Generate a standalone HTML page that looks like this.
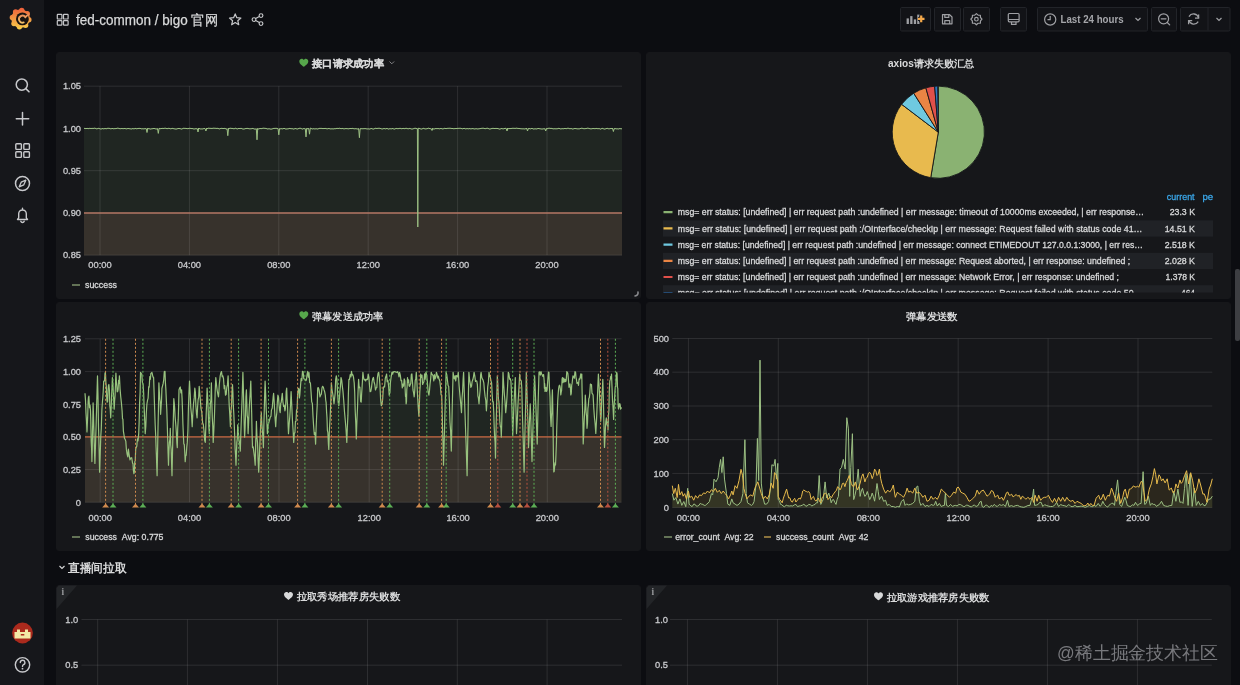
<!DOCTYPE html>
<html><head><meta charset="utf-8"><style>
html,body{margin:0;padding:0;}
body{width:1240px;height:685px;overflow:hidden;background:#0c0d11;position:relative;font-family:"Liberation Sans", sans-serif;}
</style></head><body>
<div style="position:absolute;left:0;top:0;width:44px;height:685px;background:#16171b"></div>
<svg width="1240" height="685" style="position:absolute;left:0;top:0;will-change:transform" font-family='"Liberation Sans", sans-serif'><rect x="56.5" y="52.5" width="584" height="246" rx="2.5" fill="#16171a" stroke="#16171a" stroke-width="1"/><rect x="646.5" y="52.5" width="584" height="246" rx="2.5" fill="#16171a" stroke="#16171a" stroke-width="1"/><rect x="56.5" y="302.5" width="584" height="248" rx="2.5" fill="#16171a" stroke="#16171a" stroke-width="1"/><rect x="646.5" y="302.5" width="584" height="248" rx="2.5" fill="#16171a" stroke="#16171a" stroke-width="1"/><rect x="56.5" y="585.5" width="584" height="114" rx="2.5" fill="#16171a" stroke="#16171a" stroke-width="1"/><rect x="646.5" y="585.5" width="584" height="114" rx="2.5" fill="#16171a" stroke="#16171a" stroke-width="1"/><polygon points="84,255.2 84.0,128.5 85.0,128.3 86.0,128.8 87.0,128.2 88.0,128.7 89.0,128.5 90.0,128.2 91.0,128.7 92.0,128.2 93.0,128.6 94.0,128.2 95.0,128.2 96.0,128.6 97.0,129.0 98.0,128.3 99.0,128.4 100.0,128.8 101.0,129.1 102.0,128.7 103.0,128.5 104.0,129.1 105.0,128.2 106.0,129.0 107.0,128.4 108.0,128.3 109.0,128.3 110.0,128.5 111.0,129.0 112.0,128.3 113.0,128.7 114.0,128.8 115.0,128.5 116.0,128.7 117.0,128.2 118.0,128.2 119.0,128.4 120.0,128.8 121.0,128.6 122.0,128.5 123.0,128.7 124.0,128.6 125.0,128.4 126.0,128.9 127.0,128.8 128.0,128.4 129.0,128.7 130.0,128.7 131.0,129.0 132.0,128.9 133.0,128.4 134.0,129.1 135.0,128.3 136.0,128.6 137.0,128.9 138.0,128.3 139.0,128.6 140.0,128.2 141.0,128.8 142.0,128.9 143.0,128.7 144.0,129.0 145.0,128.5 146.0,128.8 146.3,128.8 147.0,132.5 147.7,128.8 147.0,128.7 148.0,128.7 149.0,128.6 150.0,129.0 151.0,129.1 152.0,128.6 153.0,128.8 154.0,128.2 155.0,128.9 156.0,128.8 157.0,129.1 158.0,129.0 157.6,128.8 158.3,133.4 159.0,128.8 159.0,128.4 160.0,128.5 161.0,128.8 162.0,128.2 163.0,128.6 164.0,128.3 165.0,128.3 166.0,128.2 167.0,128.9 168.0,128.3 169.0,128.4 170.0,128.5 171.0,129.0 172.0,128.2 173.0,128.6 174.0,128.7 175.0,129.0 176.0,129.0 177.0,129.0 178.0,128.4 179.0,128.6 180.0,128.5 181.0,129.0 182.0,129.1 183.0,128.3 184.0,128.3 185.0,128.4 186.0,128.4 187.0,128.6 188.0,128.7 189.0,128.4 190.0,128.2 191.0,128.6 192.0,128.5 193.0,128.7 194.0,129.1 195.0,128.8 196.0,128.7 197.0,128.8 197.3,128.8 198.0,132.0 198.7,128.8 198.0,128.8 199.0,128.2 200.0,129.0 201.0,128.9 202.0,129.0 203.0,128.9 204.0,128.5 205.0,128.5 205.2,128.8 205.9,131.0 206.6,128.8 206.0,128.3 207.0,128.8 208.0,128.2 209.0,128.2 210.0,128.4 211.0,128.3 212.0,128.5 213.0,128.2 214.0,128.2 215.0,128.3 216.0,128.3 217.0,128.5 218.0,128.2 219.0,129.0 220.0,128.8 221.0,128.3 222.0,128.4 223.0,128.5 224.0,128.5 225.0,128.3 226.0,129.0 227.0,129.1 227.1,128.8 227.8,135.7 228.5,128.8 228.0,128.6 229.0,128.6 230.0,128.2 231.0,128.3 232.0,128.5 233.0,128.4 234.0,129.0 235.0,128.3 236.0,128.2 237.0,129.1 238.0,128.7 239.0,128.3 240.0,128.7 241.0,128.2 242.0,128.7 243.0,129.1 244.0,129.0 245.0,128.8 246.0,128.4 247.0,128.5 248.0,128.3 249.0,128.9 250.0,128.7 251.0,128.9 252.0,128.5 253.0,128.4 254.0,129.0 255.0,129.1 256.0,129.0 256.3,128.8 257.0,139.8 257.7,128.8 257.0,129.0 258.0,129.0 259.0,128.9 260.0,128.4 261.0,128.7 262.0,128.5 263.0,128.2 264.0,128.2 265.0,128.4 266.0,128.4 267.0,128.8 268.0,129.1 269.0,128.6 270.0,129.1 271.0,129.1 272.0,129.1 273.0,128.5 274.0,128.4 275.0,128.4 276.0,128.3 277.0,128.4 278.0,128.8 278.1,128.8 278.8,134.8 279.5,128.8 279.0,129.1 280.0,129.0 281.0,128.6 282.0,128.8 283.0,128.9 284.0,128.2 285.0,128.8 286.0,129.1 287.0,128.9 288.0,128.9 289.0,128.6 290.0,128.3 291.0,128.9 292.0,128.5 293.0,129.0 294.0,129.1 295.0,128.5 296.0,128.6 297.0,129.1 298.0,128.9 299.0,128.3 300.0,128.3 301.0,128.3 302.0,129.1 303.0,129.0 304.0,128.3 305.0,129.0 305.3,128.8 306.0,136.9 306.7,128.8 306.0,129.1 307.0,128.8 308.0,128.5 309.0,128.7 308.8,128.8 309.5,134.2 310.2,128.8 310.0,128.3 311.0,128.2 312.0,129.1 313.0,128.8 314.0,128.7 315.0,129.1 316.0,128.6 317.0,129.0 318.0,129.0 319.0,128.4 320.0,128.4 321.0,128.4 322.0,128.4 323.0,128.7 324.0,128.4 325.0,128.6 326.0,128.3 327.0,129.1 328.0,128.5 329.0,128.6 330.0,128.7 331.0,129.1 332.0,128.6 333.0,129.1 334.0,128.7 335.0,128.7 336.0,128.7 337.0,128.2 338.0,128.6 339.0,128.3 340.0,128.2 341.0,128.9 342.0,128.3 343.0,128.6 344.0,128.9 345.0,128.7 346.0,128.5 347.0,128.7 348.0,128.7 349.0,128.9 350.0,128.3 351.0,128.7 352.0,128.4 353.0,128.4 354.0,128.9 355.0,128.7 356.0,128.7 357.0,128.9 358.0,129.1 359.0,128.6 358.7,128.8 359.4,137.7 360.1,128.8 360.0,128.8 361.0,128.7 362.0,128.7 363.0,128.8 364.0,128.6 365.0,128.7 366.0,128.6 367.0,129.1 368.0,128.8 369.0,129.0 370.0,129.1 371.0,128.4 372.0,128.7 373.0,129.1 374.0,129.0 375.0,128.3 376.0,128.3 377.0,128.6 378.0,128.2 379.0,128.4 380.0,128.2 381.0,128.8 382.0,128.9 383.0,129.0 384.0,128.3 385.0,128.9 386.0,128.8 387.0,128.3 388.0,129.0 389.0,129.1 390.0,128.4 391.0,129.1 392.0,128.5 393.0,128.6 394.0,129.1 395.0,129.0 396.0,128.3 397.0,128.6 398.0,128.7 399.0,128.5 400.0,128.3 401.0,128.5 402.0,128.9 403.0,128.2 404.0,128.7 405.0,128.6 406.0,128.2 407.0,128.5 408.0,128.8 409.0,128.7 410.0,128.2 411.0,129.1 412.0,128.9 413.0,129.1 414.0,128.3 415.0,128.4 416.0,128.2 417.0,128.9 417.4,128.8 417.8,227.0 418.2,128.8 418.0,128.4 419.0,128.3 420.0,128.6 421.0,129.1 422.0,129.0 423.0,128.4 424.0,128.3 425.0,129.1 426.0,128.7 427.0,128.9 428.0,128.2 429.0,128.2 430.0,128.8 431.0,128.6 431.3,128.8 432.0,130.5 432.7,128.8 432.0,128.2 433.0,129.1 434.0,128.8 435.0,129.0 436.0,128.2 437.0,129.0 438.0,128.2 439.0,129.0 440.0,128.6 441.0,128.5 442.0,128.7 443.0,129.1 444.0,128.4 445.0,128.3 446.0,128.7 447.0,128.4 448.0,128.3 449.0,128.3 450.0,128.2 451.0,128.4 452.0,128.5 453.0,128.5 454.0,128.9 455.0,128.4 456.0,128.7 457.0,128.3 458.0,128.5 459.0,128.2 460.0,128.4 461.0,128.2 462.0,128.9 463.0,128.7 464.0,128.3 465.0,128.6 466.0,129.1 467.0,128.3 468.0,129.0 469.0,128.6 470.0,128.6 471.0,129.0 472.0,128.5 473.0,128.7 474.0,128.8 475.0,129.1 476.0,128.5 477.0,129.0 478.0,128.9 479.0,128.8 480.0,128.6 481.0,128.5 482.0,128.2 483.0,128.3 484.0,128.2 485.0,128.9 486.0,128.4 487.0,128.3 488.0,128.2 489.0,129.0 490.0,129.0 491.0,128.8 492.0,128.4 493.0,128.4 494.0,128.4 495.0,128.6 496.0,128.3 497.0,128.6 498.0,128.4 499.0,129.1 500.0,129.1 501.0,128.7 502.0,128.4 503.0,129.1 504.0,128.5 505.0,128.5 506.0,128.2 506.3,128.8 507.0,131.0 507.7,128.8 507.0,128.5 508.0,128.6 509.0,128.7 510.0,128.4 511.0,128.7 512.0,128.2 513.0,128.4 514.0,128.2 515.0,128.5 516.0,128.2 517.0,128.2 518.0,128.5 519.0,128.4 520.0,128.7 521.0,128.7 522.0,128.9 523.0,128.8 524.0,128.9 525.0,129.0 526.0,128.5 527.0,128.5 526.8,128.8 527.5,131.0 528.2,128.8 528.0,129.1 529.0,128.3 530.0,128.9 531.0,128.8 532.0,128.2 533.0,129.0 534.0,129.0 535.0,128.8 536.0,128.9 537.0,129.0 538.0,128.3 539.0,128.7 540.0,128.7 541.0,129.0 542.0,129.0 543.0,129.0 544.0,128.7 545.0,129.0 545.0,128.8 545.7,131.0 546.4,128.8 546.0,128.8 547.0,128.8 548.0,128.4 549.0,128.2 550.0,128.3 551.0,128.5 552.0,128.3 553.0,129.0 554.0,128.7 555.0,128.8 556.0,128.8 557.0,128.8 558.0,128.6 559.0,128.2 560.0,128.9 561.0,128.9 562.0,128.7 563.0,128.7 564.0,128.8 565.0,128.2 566.0,128.9 567.0,128.4 568.0,128.2 569.0,128.4 570.0,128.9 571.0,128.4 572.0,128.9 573.0,129.1 574.0,128.6 575.0,128.5 576.0,128.6 577.0,128.8 578.0,128.9 579.0,128.8 580.0,128.8 581.0,128.2 582.0,128.3 583.0,128.4 584.0,128.9 585.0,128.5 586.0,128.7 587.0,128.2 588.0,128.2 589.0,128.4 590.0,128.8 591.0,128.8 592.0,128.8 593.0,128.4 594.0,128.7 595.0,128.6 596.0,128.6 597.0,128.3 598.0,129.0 599.0,128.3 600.0,129.1 601.0,129.1 602.0,128.2 603.0,128.6 604.0,129.0 605.0,129.1 606.0,128.6 607.0,128.4 608.0,128.4 609.0,129.1 610.0,128.4 611.0,128.7 612.0,128.3 613.0,128.7 612.7,128.8 613.4,131.5 614.1,128.8 614.0,129.1 615.0,128.3 616.0,129.0 617.0,128.7 618.0,129.0 619.0,128.9 620.0,128.4 621.0,129.0 622.0,128.6 622,255.2" fill="rgba(126,178,109,0.10)"/><rect x="84" y="212.94999999999996" width="538" height="42.25000000000003" fill="rgba(152,102,84,0.20)"/><line x1="84" y1="86.2" x2="622" y2="86.2" stroke="rgba(255,255,255,0.1)" stroke-width="1"/><text x="81" y="89.4" font-size="9.3" fill="#c8c9cc" text-anchor="end" font-weight="normal" stroke="#c8c9cc" stroke-width="0.3" >1.05</text><line x1="84" y1="128.4" x2="622" y2="128.4" stroke="rgba(255,255,255,0.1)" stroke-width="1"/><text x="81" y="131.6" font-size="9.3" fill="#c8c9cc" text-anchor="end" font-weight="normal" stroke="#c8c9cc" stroke-width="0.3" >1.00</text><line x1="84" y1="170.7" x2="622" y2="170.7" stroke="rgba(255,255,255,0.1)" stroke-width="1"/><text x="81" y="173.89999999999998" font-size="9.3" fill="#c8c9cc" text-anchor="end" font-weight="normal" stroke="#c8c9cc" stroke-width="0.3" >0.95</text><line x1="84" y1="212.9" x2="622" y2="212.9" stroke="rgba(255,255,255,0.1)" stroke-width="1"/><text x="81" y="216.1" font-size="9.3" fill="#c8c9cc" text-anchor="end" font-weight="normal" stroke="#c8c9cc" stroke-width="0.3" >0.90</text><line x1="84" y1="255.2" x2="622" y2="255.2" stroke="rgba(255,255,255,0.1)" stroke-width="1"/><text x="81" y="258.4" font-size="9.3" fill="#c8c9cc" text-anchor="end" font-weight="normal" stroke="#c8c9cc" stroke-width="0.3" >0.85</text><line x1="100" y1="86.2" x2="100" y2="255.2" stroke="rgba(255,255,255,0.1)" stroke-width="1"/><text x="100" y="268.2" font-size="9.3" fill="#c8c9cc" text-anchor="middle" font-weight="normal" stroke="#c8c9cc" stroke-width="0.3" >00:00</text><line x1="189.4" y1="86.2" x2="189.4" y2="255.2" stroke="rgba(255,255,255,0.1)" stroke-width="1"/><text x="189.4" y="268.2" font-size="9.3" fill="#c8c9cc" text-anchor="middle" font-weight="normal" stroke="#c8c9cc" stroke-width="0.3" >04:00</text><line x1="278.8" y1="86.2" x2="278.8" y2="255.2" stroke="rgba(255,255,255,0.1)" stroke-width="1"/><text x="278.8" y="268.2" font-size="9.3" fill="#c8c9cc" text-anchor="middle" font-weight="normal" stroke="#c8c9cc" stroke-width="0.3" >08:00</text><line x1="368.2" y1="86.2" x2="368.2" y2="255.2" stroke="rgba(255,255,255,0.1)" stroke-width="1"/><text x="368.2" y="268.2" font-size="9.3" fill="#c8c9cc" text-anchor="middle" font-weight="normal" stroke="#c8c9cc" stroke-width="0.3" >12:00</text><line x1="457.6" y1="86.2" x2="457.6" y2="255.2" stroke="rgba(255,255,255,0.1)" stroke-width="1"/><text x="457.6" y="268.2" font-size="9.3" fill="#c8c9cc" text-anchor="middle" font-weight="normal" stroke="#c8c9cc" stroke-width="0.3" >16:00</text><line x1="547" y1="86.2" x2="547" y2="255.2" stroke="rgba(255,255,255,0.1)" stroke-width="1"/><text x="547" y="268.2" font-size="9.3" fill="#c8c9cc" text-anchor="middle" font-weight="normal" stroke="#c8c9cc" stroke-width="0.3" >20:00</text><line x1="84" y1="212.94999999999996" x2="622" y2="212.94999999999996" stroke="#b27462" stroke-width="1.6"/><polyline points="84.0,128.5 85.0,128.3 86.0,128.8 87.0,128.2 88.0,128.7 89.0,128.5 90.0,128.2 91.0,128.7 92.0,128.2 93.0,128.6 94.0,128.2 95.0,128.2 96.0,128.6 97.0,129.0 98.0,128.3 99.0,128.4 100.0,128.8 101.0,129.1 102.0,128.7 103.0,128.5 104.0,129.1 105.0,128.2 106.0,129.0 107.0,128.4 108.0,128.3 109.0,128.3 110.0,128.5 111.0,129.0 112.0,128.3 113.0,128.7 114.0,128.8 115.0,128.5 116.0,128.7 117.0,128.2 118.0,128.2 119.0,128.4 120.0,128.8 121.0,128.6 122.0,128.5 123.0,128.7 124.0,128.6 125.0,128.4 126.0,128.9 127.0,128.8 128.0,128.4 129.0,128.7 130.0,128.7 131.0,129.0 132.0,128.9 133.0,128.4 134.0,129.1 135.0,128.3 136.0,128.6 137.0,128.9 138.0,128.3 139.0,128.6 140.0,128.2 141.0,128.8 142.0,128.9 143.0,128.7 144.0,129.0 145.0,128.5 146.0,128.8 146.3,128.8 147.0,132.5 147.7,128.8 147.0,128.7 148.0,128.7 149.0,128.6 150.0,129.0 151.0,129.1 152.0,128.6 153.0,128.8 154.0,128.2 155.0,128.9 156.0,128.8 157.0,129.1 158.0,129.0 157.6,128.8 158.3,133.4 159.0,128.8 159.0,128.4 160.0,128.5 161.0,128.8 162.0,128.2 163.0,128.6 164.0,128.3 165.0,128.3 166.0,128.2 167.0,128.9 168.0,128.3 169.0,128.4 170.0,128.5 171.0,129.0 172.0,128.2 173.0,128.6 174.0,128.7 175.0,129.0 176.0,129.0 177.0,129.0 178.0,128.4 179.0,128.6 180.0,128.5 181.0,129.0 182.0,129.1 183.0,128.3 184.0,128.3 185.0,128.4 186.0,128.4 187.0,128.6 188.0,128.7 189.0,128.4 190.0,128.2 191.0,128.6 192.0,128.5 193.0,128.7 194.0,129.1 195.0,128.8 196.0,128.7 197.0,128.8 197.3,128.8 198.0,132.0 198.7,128.8 198.0,128.8 199.0,128.2 200.0,129.0 201.0,128.9 202.0,129.0 203.0,128.9 204.0,128.5 205.0,128.5 205.2,128.8 205.9,131.0 206.6,128.8 206.0,128.3 207.0,128.8 208.0,128.2 209.0,128.2 210.0,128.4 211.0,128.3 212.0,128.5 213.0,128.2 214.0,128.2 215.0,128.3 216.0,128.3 217.0,128.5 218.0,128.2 219.0,129.0 220.0,128.8 221.0,128.3 222.0,128.4 223.0,128.5 224.0,128.5 225.0,128.3 226.0,129.0 227.0,129.1 227.1,128.8 227.8,135.7 228.5,128.8 228.0,128.6 229.0,128.6 230.0,128.2 231.0,128.3 232.0,128.5 233.0,128.4 234.0,129.0 235.0,128.3 236.0,128.2 237.0,129.1 238.0,128.7 239.0,128.3 240.0,128.7 241.0,128.2 242.0,128.7 243.0,129.1 244.0,129.0 245.0,128.8 246.0,128.4 247.0,128.5 248.0,128.3 249.0,128.9 250.0,128.7 251.0,128.9 252.0,128.5 253.0,128.4 254.0,129.0 255.0,129.1 256.0,129.0 256.3,128.8 257.0,139.8 257.7,128.8 257.0,129.0 258.0,129.0 259.0,128.9 260.0,128.4 261.0,128.7 262.0,128.5 263.0,128.2 264.0,128.2 265.0,128.4 266.0,128.4 267.0,128.8 268.0,129.1 269.0,128.6 270.0,129.1 271.0,129.1 272.0,129.1 273.0,128.5 274.0,128.4 275.0,128.4 276.0,128.3 277.0,128.4 278.0,128.8 278.1,128.8 278.8,134.8 279.5,128.8 279.0,129.1 280.0,129.0 281.0,128.6 282.0,128.8 283.0,128.9 284.0,128.2 285.0,128.8 286.0,129.1 287.0,128.9 288.0,128.9 289.0,128.6 290.0,128.3 291.0,128.9 292.0,128.5 293.0,129.0 294.0,129.1 295.0,128.5 296.0,128.6 297.0,129.1 298.0,128.9 299.0,128.3 300.0,128.3 301.0,128.3 302.0,129.1 303.0,129.0 304.0,128.3 305.0,129.0 305.3,128.8 306.0,136.9 306.7,128.8 306.0,129.1 307.0,128.8 308.0,128.5 309.0,128.7 308.8,128.8 309.5,134.2 310.2,128.8 310.0,128.3 311.0,128.2 312.0,129.1 313.0,128.8 314.0,128.7 315.0,129.1 316.0,128.6 317.0,129.0 318.0,129.0 319.0,128.4 320.0,128.4 321.0,128.4 322.0,128.4 323.0,128.7 324.0,128.4 325.0,128.6 326.0,128.3 327.0,129.1 328.0,128.5 329.0,128.6 330.0,128.7 331.0,129.1 332.0,128.6 333.0,129.1 334.0,128.7 335.0,128.7 336.0,128.7 337.0,128.2 338.0,128.6 339.0,128.3 340.0,128.2 341.0,128.9 342.0,128.3 343.0,128.6 344.0,128.9 345.0,128.7 346.0,128.5 347.0,128.7 348.0,128.7 349.0,128.9 350.0,128.3 351.0,128.7 352.0,128.4 353.0,128.4 354.0,128.9 355.0,128.7 356.0,128.7 357.0,128.9 358.0,129.1 359.0,128.6 358.7,128.8 359.4,137.7 360.1,128.8 360.0,128.8 361.0,128.7 362.0,128.7 363.0,128.8 364.0,128.6 365.0,128.7 366.0,128.6 367.0,129.1 368.0,128.8 369.0,129.0 370.0,129.1 371.0,128.4 372.0,128.7 373.0,129.1 374.0,129.0 375.0,128.3 376.0,128.3 377.0,128.6 378.0,128.2 379.0,128.4 380.0,128.2 381.0,128.8 382.0,128.9 383.0,129.0 384.0,128.3 385.0,128.9 386.0,128.8 387.0,128.3 388.0,129.0 389.0,129.1 390.0,128.4 391.0,129.1 392.0,128.5 393.0,128.6 394.0,129.1 395.0,129.0 396.0,128.3 397.0,128.6 398.0,128.7 399.0,128.5 400.0,128.3 401.0,128.5 402.0,128.9 403.0,128.2 404.0,128.7 405.0,128.6 406.0,128.2 407.0,128.5 408.0,128.8 409.0,128.7 410.0,128.2 411.0,129.1 412.0,128.9 413.0,129.1 414.0,128.3 415.0,128.4 416.0,128.2 417.0,128.9 417.4,128.8 417.8,227.0 418.2,128.8 418.0,128.4 419.0,128.3 420.0,128.6 421.0,129.1 422.0,129.0 423.0,128.4 424.0,128.3 425.0,129.1 426.0,128.7 427.0,128.9 428.0,128.2 429.0,128.2 430.0,128.8 431.0,128.6 431.3,128.8 432.0,130.5 432.7,128.8 432.0,128.2 433.0,129.1 434.0,128.8 435.0,129.0 436.0,128.2 437.0,129.0 438.0,128.2 439.0,129.0 440.0,128.6 441.0,128.5 442.0,128.7 443.0,129.1 444.0,128.4 445.0,128.3 446.0,128.7 447.0,128.4 448.0,128.3 449.0,128.3 450.0,128.2 451.0,128.4 452.0,128.5 453.0,128.5 454.0,128.9 455.0,128.4 456.0,128.7 457.0,128.3 458.0,128.5 459.0,128.2 460.0,128.4 461.0,128.2 462.0,128.9 463.0,128.7 464.0,128.3 465.0,128.6 466.0,129.1 467.0,128.3 468.0,129.0 469.0,128.6 470.0,128.6 471.0,129.0 472.0,128.5 473.0,128.7 474.0,128.8 475.0,129.1 476.0,128.5 477.0,129.0 478.0,128.9 479.0,128.8 480.0,128.6 481.0,128.5 482.0,128.2 483.0,128.3 484.0,128.2 485.0,128.9 486.0,128.4 487.0,128.3 488.0,128.2 489.0,129.0 490.0,129.0 491.0,128.8 492.0,128.4 493.0,128.4 494.0,128.4 495.0,128.6 496.0,128.3 497.0,128.6 498.0,128.4 499.0,129.1 500.0,129.1 501.0,128.7 502.0,128.4 503.0,129.1 504.0,128.5 505.0,128.5 506.0,128.2 506.3,128.8 507.0,131.0 507.7,128.8 507.0,128.5 508.0,128.6 509.0,128.7 510.0,128.4 511.0,128.7 512.0,128.2 513.0,128.4 514.0,128.2 515.0,128.5 516.0,128.2 517.0,128.2 518.0,128.5 519.0,128.4 520.0,128.7 521.0,128.7 522.0,128.9 523.0,128.8 524.0,128.9 525.0,129.0 526.0,128.5 527.0,128.5 526.8,128.8 527.5,131.0 528.2,128.8 528.0,129.1 529.0,128.3 530.0,128.9 531.0,128.8 532.0,128.2 533.0,129.0 534.0,129.0 535.0,128.8 536.0,128.9 537.0,129.0 538.0,128.3 539.0,128.7 540.0,128.7 541.0,129.0 542.0,129.0 543.0,129.0 544.0,128.7 545.0,129.0 545.0,128.8 545.7,131.0 546.4,128.8 546.0,128.8 547.0,128.8 548.0,128.4 549.0,128.2 550.0,128.3 551.0,128.5 552.0,128.3 553.0,129.0 554.0,128.7 555.0,128.8 556.0,128.8 557.0,128.8 558.0,128.6 559.0,128.2 560.0,128.9 561.0,128.9 562.0,128.7 563.0,128.7 564.0,128.8 565.0,128.2 566.0,128.9 567.0,128.4 568.0,128.2 569.0,128.4 570.0,128.9 571.0,128.4 572.0,128.9 573.0,129.1 574.0,128.6 575.0,128.5 576.0,128.6 577.0,128.8 578.0,128.9 579.0,128.8 580.0,128.8 581.0,128.2 582.0,128.3 583.0,128.4 584.0,128.9 585.0,128.5 586.0,128.7 587.0,128.2 588.0,128.2 589.0,128.4 590.0,128.8 591.0,128.8 592.0,128.8 593.0,128.4 594.0,128.7 595.0,128.6 596.0,128.6 597.0,128.3 598.0,129.0 599.0,128.3 600.0,129.1 601.0,129.1 602.0,128.2 603.0,128.6 604.0,129.0 605.0,129.1 606.0,128.6 607.0,128.4 608.0,128.4 609.0,129.1 610.0,128.4 611.0,128.7 612.0,128.3 613.0,128.7 612.7,128.8 613.4,131.5 614.1,128.8 614.0,129.1 615.0,128.3 616.0,129.0 617.0,128.7 618.0,129.0 619.0,128.9 620.0,128.4 621.0,129.0 622.0,128.6" fill="none" stroke="#9cc083" stroke-width="1"/><line x1="72" y1="285" x2="80" y2="285" stroke="#8fa677" stroke-width="1.3"/><text x="85" y="288.2" font-size="9.3" fill="#d8d9da" text-anchor="start" font-weight="normal" textLength="32" lengthAdjust="spacingAndGlyphs" stroke="#d8d9da" stroke-width="0.3" >success</text><path d="M635 296 Q638.5 295.5 638 292" fill="none" stroke="#8a8b8e" stroke-width="1.6" stroke-linecap="round"/><path transform="translate(303.8,63) scale(1.0)" d="M0 3.8 C-1.2 2.8 -4.5 0.6 -4.5 -1.6 C-4.5 -3.2 -3.3 -4.2 -2.1 -4.2 C-1.1 -4.2 -0.4 -3.6 0 -3 C0.4 -3.6 1.1 -4.2 2.1 -4.2 C3.3 -4.2 4.5 -3.2 4.5 -1.6 C4.5 0.6 1.2 2.8 0 3.8 Z" fill="#56a64b"/><text x="312" y="67.1" font-size="10" fill="#d8d9da" text-anchor="start" font-weight="bold" textLength="72" lengthAdjust="spacingAndGlyphs" stroke="#d8d9da" stroke-width="0.15" >接口请求成功率</text><path d="M389.5 61.5 L391.8 63.8 L394.1 61.5" fill="none" stroke="#8e8f92" stroke-width="0.9"/><text x="888" y="66.9" font-size="10" fill="#d8d9da" text-anchor="start" font-weight="bold" textLength="86.4" lengthAdjust="spacingAndGlyphs" >axios请求失败汇总</text><path transform="translate(303.8,315.5) scale(1.0)" d="M0 3.8 C-1.2 2.8 -4.5 0.6 -4.5 -1.6 C-4.5 -3.2 -3.3 -4.2 -2.1 -4.2 C-1.1 -4.2 -0.4 -3.6 0 -3 C0.4 -3.6 1.1 -4.2 2.1 -4.2 C3.3 -4.2 4.5 -3.2 4.5 -1.6 C4.5 0.6 1.2 2.8 0 3.8 Z" fill="#56a64b"/><text x="312" y="319.7" font-size="10" fill="#d8d9da" text-anchor="start" font-weight="bold" textLength="71.3" lengthAdjust="spacingAndGlyphs" >弹幕发送成功率</text><text x="905.6" y="319.7" font-size="10" fill="#d8d9da" text-anchor="start" font-weight="bold" textLength="52.3" lengthAdjust="spacingAndGlyphs" >弹幕发送数</text><path transform="translate(288.5,596.2) scale(1.0)" d="M0 3.8 C-1.2 2.8 -4.5 0.6 -4.5 -1.6 C-4.5 -3.2 -3.3 -4.2 -2.1 -4.2 C-1.1 -4.2 -0.4 -3.6 0 -3 C0.4 -3.6 1.1 -4.2 2.1 -4.2 C3.3 -4.2 4.5 -3.2 4.5 -1.6 C4.5 0.6 1.2 2.8 0 3.8 Z" fill="#d8d9da"/><text x="296.8" y="600.3" font-size="10" fill="#d8d9da" text-anchor="start" font-weight="bold" textLength="103.2" lengthAdjust="spacingAndGlyphs" >拉取秀场推荐房失败数</text><path transform="translate(878.5,596.5) scale(1.0)" d="M0 3.8 C-1.2 2.8 -4.5 0.6 -4.5 -1.6 C-4.5 -3.2 -3.3 -4.2 -2.1 -4.2 C-1.1 -4.2 -0.4 -3.6 0 -3 C0.4 -3.6 1.1 -4.2 2.1 -4.2 C3.3 -4.2 4.5 -3.2 4.5 -1.6 C4.5 0.6 1.2 2.8 0 3.8 Z" fill="#d8d9da"/><text x="886.8" y="600.6" font-size="10" fill="#d8d9da" text-anchor="start" font-weight="bold" textLength="102.5" lengthAdjust="spacingAndGlyphs" >拉取游戏推荐房失败数</text><polygon points="85,502.3 85.0,393.3 85.5,400.3 86.0,413.0 86.5,420.9 87.0,431.9 87.3,424.4 87.7,416.1 88.1,401.9 88.4,397.7 88.9,396.1 89.5,407.6 90.0,405.1 90.5,410.8 90.8,420.8 91.2,441.2 91.6,448.6 91.9,461.6 92.2,450.3 92.5,432.0 92.8,419.0 93.1,402.9 93.5,414.5 94.0,434.5 94.5,452.0 94.9,463.4 95.6,441.7 96.2,422.0 96.8,399.4 97.5,375.8 98.0,395.5 98.5,426.6 99.1,449.0 99.6,472.2 100.2,454.4 100.8,436.0 101.3,428.5 101.9,409.1 102.4,401.8 102.8,397.2 103.2,391.8 103.7,381.0 104.1,381.0 104.6,380.9 105.0,373.4 105.4,372.3 105.9,382.8 106.3,386.6 106.8,399.0 107.2,402.1 107.6,401.5 108.1,389.3 108.5,385.3 108.9,384.5 109.4,390.0 109.8,405.8 110.2,408.8 110.7,417.8 111.1,409.0 111.6,395.7 112.0,387.6 112.4,377.5 112.9,384.3 113.3,391.8 113.8,402.1 114.2,409.1 114.6,400.9 115.1,395.1 115.5,383.9 115.9,373.1 116.4,382.0 116.8,385.9 117.2,391.8 117.7,391.5 118.1,389.3 118.6,380.3 119.0,383.3 119.4,375.8 120.1,389.2 120.8,397.3 121.4,402.7 122.1,410.8 122.5,418.6 122.9,419.3 123.4,431.2 123.8,433.6 124.5,438.3 125.1,439.3 125.8,441.1 126.4,449.4 127.1,454.2 127.8,456.9 128.4,449.2 129.1,454.6 130.0,459.8 130.8,458.1 131.7,457.7 132.6,463.4 133.0,463.5 133.4,470.5 133.9,473.7 134.3,472.2 134.8,461.5 135.2,461.0 135.7,449.2 136.1,447.6 136.8,446.3 137.4,438.9 138.0,440.9 138.7,433.6 139.1,423.1 139.6,403.0 140.1,392.6 140.5,372.3 141.2,373.4 141.8,374.2 142.4,382.4 143.1,384.5 143.6,392.1 144.1,406.0 144.7,420.4 145.2,433.6 145.8,426.4 146.3,413.5 146.9,404.0 147.5,400.3 148.1,398.1 148.7,386.6 149.2,387.1 149.8,376.6 150.3,379.5 150.9,373.2 151.4,373.0 151.9,372.3 152.3,373.8 152.8,376.3 153.2,377.2 153.6,377.5 154.1,392.6 154.6,407.7 155.2,425.3 155.7,435.4 156.0,445.5 156.4,454.9 156.8,467.8 157.1,475.7 157.6,449.9 158.0,427.3 158.4,410.8 158.9,382.8 159.3,390.9 159.8,399.0 160.2,401.5 160.6,414.3 161.1,406.5 161.5,401.1 161.9,388.5 162.4,386.3 163.1,383.7 163.7,380.2 164.3,371.6 165.0,371.4 165.4,382.1 165.9,389.9 166.4,401.5 166.8,409.1 167.2,421.7 167.7,439.2 168.1,453.6 168.5,465.2 168.9,451.2 169.4,442.4 169.9,439.3 170.3,428.3 170.7,444.8 171.2,449.5 171.6,463.4 172.0,475.7 172.4,457.4 172.9,435.4 173.4,416.5 173.8,398.6 174.2,402.4 174.7,408.6 175.1,416.6 175.5,421.3 175.9,425.9 176.4,433.2 176.9,443.7 177.3,447.6 177.7,428.4 178.2,419.4 178.6,406.6 179.0,389.8 179.7,387.9 180.3,387.0 180.9,392.8 181.6,389.8 182.1,398.6 182.5,409.5 182.9,423.4 183.4,435.4 183.8,443.9 184.3,444.5 184.8,453.3 185.2,461.6 185.7,455.1 186.2,455.3 186.8,446.6 187.3,442.4 187.9,430.6 188.4,408.4 188.9,394.7 189.5,381.0 190.2,393.9 190.8,407.6 191.5,414.7 192.2,426.6 192.8,414.2 193.5,403.5 194.2,397.9 194.8,388.0 195.4,392.4 195.9,406.0 196.5,413.7 197.1,417.8 197.6,406.8 198.1,399.8 198.7,397.2 199.2,386.3 200.1,396.9 200.9,407.8 201.8,412.4 202.7,423.1 203.3,424.2 204.0,430.7 204.7,440.5 205.3,442.4 205.8,426.5 206.2,413.7 206.7,400.8 207.1,388.0 207.7,398.6 208.2,409.9 208.8,426.4 209.3,433.6 209.8,417.5 210.4,403.2 210.9,399.9 211.4,382.8 211.8,401.5 212.3,417.5 212.8,426.8 213.2,442.4 213.8,430.7 214.5,414.2 215.2,390.9 215.8,377.5 216.5,384.8 217.2,390.5 217.8,393.6 218.5,396.8 218.9,391.7 219.3,384.2 219.8,379.5 220.2,375.8 220.8,373.1 221.5,371.6 222.2,376.7 222.8,375.8 223.5,378.5 224.2,388.6 224.8,385.7 225.5,395.1 226.2,394.3 226.8,387.4 227.4,384.9 228.1,375.8 228.7,392.5 229.2,405.2 229.8,414.7 230.4,426.6 230.9,411.2 231.4,408.0 232.0,391.7 232.5,384.5 232.9,392.1 233.3,405.4 233.8,413.7 234.2,423.1 234.6,432.8 235.1,448.5 235.6,455.8 236.0,465.2 236.4,453.5 236.8,442.5 237.3,438.5 237.7,424.8 238.3,431.1 239.0,440.8 239.7,443.0 240.3,451.1 241.0,428.4 241.6,412.0 242.2,395.2 242.9,372.3 243.3,385.2 243.8,407.6 244.2,425.1 244.6,437.1 245.1,428.3 245.5,416.7 245.9,396.7 246.4,389.8 246.8,402.0 247.2,415.3 247.7,418.1 248.1,433.6 248.8,418.2 249.4,405.0 250.1,394.4 250.8,381.0 251.2,396.9 251.7,414.0 252.1,433.7 252.5,447.6 253.2,447.0 253.8,451.9 254.5,457.1 255.2,465.2 255.5,450.5 255.8,438.9 256.1,437.0 256.4,421.3 257.0,437.6 257.5,442.6 258.1,459.5 258.7,472.2 259.4,455.5 260.0,440.5 260.6,426.0 261.3,412.6 261.8,422.8 262.4,431.0 262.9,437.5 263.4,447.6 263.8,427.9 264.2,412.6 264.7,393.9 265.1,381.0 265.7,394.7 266.2,409.5 266.8,419.3 267.4,433.6 268.1,425.4 268.8,422.5 269.4,420.5 270.1,417.8 270.5,416.7 271.0,416.3 271.4,410.1 271.8,409.1 272.2,408.2 272.7,402.4 273.2,396.6 273.6,393.3 274.1,400.3 274.6,409.9 275.2,420.3 275.7,426.6 276.2,417.9 276.8,412.8 277.3,402.6 277.9,395.1 278.5,396.9 279.0,404.2 279.6,410.2 280.2,412.6 280.7,403.5 281.2,402.2 281.8,397.4 282.3,393.3 282.9,401.5 283.6,406.4 284.2,405.2 284.9,410.8 285.3,409.1 285.8,402.3 286.2,391.3 286.7,388.0 287.1,399.0 287.6,407.0 288.1,425.3 288.5,433.6 289.1,424.7 289.8,416.4 290.5,404.9 291.1,391.5 291.8,405.9 292.4,419.3 293.1,430.3 293.7,442.4 294.3,433.2 294.9,432.7 295.4,421.6 296.0,421.3 296.5,410.3 297.1,409.1 297.6,394.4 298.1,391.5 298.5,388.3 299.0,389.3 299.4,398.0 299.8,395.1 300.5,386.0 301.1,378.5 301.8,380.7 302.5,371.4 303.1,371.6 303.8,378.8 304.5,379.1 305.1,379.3 305.8,380.7 306.4,379.9 307.1,374.2 307.7,371.4 308.4,377.2 309.0,372.5 309.7,382.6 310.4,382.8 311.0,391.2 311.7,401.6 312.4,403.8 313.0,416.1 313.6,425.6 314.3,434.4 315.0,432.7 315.6,444.1 316.1,428.3 316.6,416.7 317.2,405.3 317.7,388.0 318.3,387.6 318.9,389.2 319.4,392.1 320.0,396.8 320.6,395.3 321.3,394.1 322.0,387.9 322.6,386.3 323.3,387.2 324.0,389.7 324.6,391.4 325.3,395.1 325.7,400.0 326.1,402.3 326.6,412.1 327.0,417.8 327.4,430.4 327.9,432.7 328.4,444.0 328.8,449.4 329.4,429.4 330.1,418.0 330.8,402.0 331.4,382.8 332.0,389.8 332.7,393.5 333.4,398.4 334.0,403.8 334.6,398.2 335.1,393.8 335.7,379.3 336.3,375.8 336.9,379.2 337.6,393.2 338.2,402.3 338.8,405.6 339.4,398.7 339.9,391.0 340.4,386.7 341.0,377.5 341.7,380.1 342.4,386.6 343.0,391.6 343.7,400.3 344.5,411.7 345.2,419.5 346.0,429.2 346.8,442.4 347.3,428.5 347.9,415.4 348.4,393.0 348.9,379.3 349.5,379.4 350.2,374.5 350.9,376.9 351.5,371.4 352.2,375.1 352.9,374.8 353.5,377.1 354.2,382.8 354.7,392.1 355.2,410.6 355.8,423.7 356.3,438.9 356.9,420.7 357.5,407.7 358.0,392.4 358.6,379.3 359.2,387.7 359.9,387.1 360.6,401.3 361.2,402.1 361.6,394.4 362.0,388.2 362.5,379.4 362.9,372.3 363.6,377.8 364.2,379.9 364.9,379.4 365.6,381.0 366.2,379.1 366.9,379.7 367.6,379.3 368.2,374.0 368.9,377.4 369.5,385.1 370.1,391.7 370.8,391.5 371.5,387.7 372.1,381.8 372.8,378.3 373.5,377.5 374.1,382.3 374.8,384.5 375.5,390.0 376.1,388.0 376.8,387.6 377.4,377.6 378.1,373.1 378.7,372.3 379.4,378.2 380.0,385.8 380.6,399.3 381.3,405.6 382.0,404.4 382.6,399.9 383.3,388.7 384.0,386.3 384.6,386.9 385.3,378.3 386.0,376.3 386.6,374.0 387.2,381.6 387.9,380.4 388.6,385.8 389.2,395.1 389.9,392.7 390.5,381.6 391.2,376.6 391.9,372.3 392.3,373.1 392.7,374.1 393.1,371.6 393.5,372.3 394.4,371.6 395.2,371.7 396.1,372.2 397.0,372.3 397.6,371.6 398.3,373.2 399.0,376.9 399.6,372.3 400.3,375.1 401.0,380.6 401.6,380.3 402.3,388.0 402.9,384.0 403.6,386.2 404.2,378.9 404.9,381.0 405.2,390.6 405.5,396.5 405.8,394.1 406.1,403.8 406.5,401.6 406.8,389.4 407.1,386.8 407.5,377.5 408.0,382.3 408.6,379.9 409.1,385.9 409.6,386.3 410.2,384.8 410.8,383.2 411.3,374.7 411.9,374.0 412.5,382.2 413.0,390.0 413.6,392.8 414.2,396.8 414.7,391.0 415.2,380.7 415.8,378.4 416.3,372.3 416.9,381.8 417.6,396.4 418.2,406.9 418.9,416.1 419.3,406.2 419.8,391.9 420.2,386.0 420.7,374.0 421.4,377.5 422.0,375.2 422.6,384.5 423.3,382.8 423.9,381.7 424.6,373.8 425.2,379.2 425.9,372.3 426.6,374.4 427.4,382.0 428.1,391.6 428.9,395.1 429.5,390.4 430.0,384.2 430.6,379.5 431.2,372.3 431.9,374.1 432.5,374.8 433.1,375.6 433.8,381.0 434.4,374.5 435.1,378.8 435.8,377.0 436.4,372.3 437.1,374.5 437.8,378.2 438.4,376.1 439.1,379.3 439.8,380.9 440.4,386.0 441.1,394.9 441.7,395.1 442.1,408.0 442.6,430.2 443.1,445.1 443.5,465.2 444.1,444.7 444.8,417.3 445.5,393.9 446.1,372.3 446.8,374.8 447.4,379.7 448.1,385.5 448.7,386.3 449.4,401.0 450.0,422.2 450.6,431.0 451.3,451.1 451.8,429.1 452.2,407.7 452.7,388.1 453.1,372.3 453.8,377.3 454.4,378.9 455.1,375.7 455.7,381.0 456.4,375.7 457.0,375.8 457.6,376.9 458.3,372.3 459.1,385.5 459.9,394.9 460.7,403.4 461.5,412.6 462.0,399.0 462.6,391.4 463.1,379.3 463.6,372.3 464.5,398.4 465.4,424.7 466.2,446.9 467.1,475.7 467.6,447.4 468.0,426.8 468.4,393.5 468.9,372.3 469.5,378.8 470.2,383.2 470.9,387.3 471.5,386.3 472.1,381.6 472.8,379.8 473.5,376.6 474.1,372.3 474.8,375.8 475.5,381.4 476.1,380.7 476.8,381.0 477.4,384.7 477.9,396.0 478.4,397.9 479.0,403.8 479.5,396.9 480.1,390.3 480.6,375.2 481.1,372.3 481.8,377.6 482.5,379.2 483.1,380.1 483.8,382.8 484.4,390.0 485.1,396.4 485.8,400.7 486.4,410.8 487.0,401.5 487.7,386.9 488.4,381.9 489.0,372.3 489.6,376.4 490.3,377.0 491.0,380.8 491.6,382.8 492.2,394.8 492.7,401.6 493.2,401.5 493.8,412.6 494.2,426.9 494.6,436.6 495.1,442.2 495.5,458.1 495.9,436.1 496.4,414.3 496.9,392.2 497.3,375.8 497.9,385.4 498.4,398.5 498.9,401.6 499.5,412.6 499.9,422.4 500.4,426.8 500.9,427.3 501.3,437.1 501.7,424.5 502.1,405.7 502.6,392.8 503.0,372.3 503.7,384.5 504.4,394.8 505.0,401.0 505.7,412.6 506.4,405.6 507.0,396.8 507.6,386.0 508.3,372.3 508.9,373.8 509.6,379.2 510.2,378.7 510.9,381.0 511.4,390.7 511.8,403.6 512.2,417.6 512.7,435.4 513.4,417.9 514.0,403.1 514.6,391.9 515.3,377.5 515.6,393.5 515.9,405.9 516.2,418.8 516.5,433.6 517.3,420.2 518.1,401.8 518.9,388.5 519.7,374.0 520.2,380.1 520.8,380.0 521.3,381.3 521.8,388.0 522.4,413.0 523.0,432.3 523.5,449.8 524.1,472.2 524.6,445.9 525.2,422.5 525.8,398.2 526.3,372.3 526.8,388.4 527.4,405.0 528.0,425.9 528.5,447.6 528.9,439.5 529.4,422.1 529.8,414.3 530.2,403.8 530.7,415.2 531.1,429.8 531.5,443.9 532.0,461.6 532.6,439.2 533.3,415.4 534.0,392.5 534.6,375.8 535.2,389.0 535.9,406.6 536.6,426.9 537.2,444.1 537.7,421.7 538.1,403.4 538.5,389.7 539.0,372.3 539.6,371.8 540.3,375.2 541.0,371.6 541.6,374.0 542.2,374.8 542.9,376.5 543.6,374.5 544.2,381.0 544.4,388.3 544.6,383.4 544.8,384.8 545.0,391.5 545.5,390.8 546.0,387.3 546.6,391.4 547.1,389.8 547.5,383.9 548.0,377.3 548.5,372.2 548.9,372.3 549.5,388.1 550.0,397.2 550.5,415.8 551.1,426.5 551.4,417.0 551.8,412.5 552.1,397.0 552.4,389.8 552.8,407.8 553.1,428.6 553.4,454.6 553.8,472.0 554.2,471.5 554.6,466.9 555.1,462.7 555.5,465.0 556.0,453.7 556.4,443.4 556.8,426.5 557.3,412.5 557.7,401.0 558.1,394.7 558.6,388.8 559.0,386.3 559.5,385.2 559.9,386.0 560.3,388.4 560.8,395.0 561.2,392.2 561.6,390.3 562.1,378.9 562.5,377.5 563.1,382.7 563.8,378.2 564.5,381.9 565.1,379.3 565.7,381.7 566.2,380.2 566.8,371.6 567.4,372.3 567.9,373.8 568.5,380.4 569.0,387.3 569.5,386.3 570.0,383.9 570.4,387.7 570.8,395.0 571.3,393.3 571.7,385.1 572.1,383.4 572.6,378.5 573.0,375.8 573.6,376.7 574.3,378.3 575.0,371.6 575.6,372.3 576.0,377.3 576.5,379.9 577.0,383.5 577.4,382.8 578.0,382.5 578.5,385.3 579.1,378.8 579.7,379.3 580.2,377.1 580.8,373.9 581.3,378.1 581.8,374.0 582.1,391.3 582.5,406.7 582.9,423.2 583.2,444.0 583.7,434.0 584.2,420.6 584.8,409.4 585.3,395.0 585.7,402.2 586.1,411.5 586.6,416.5 587.0,428.3 587.5,423.0 587.9,408.6 588.3,405.6 588.8,398.5 589.3,397.6 589.8,393.3 590.4,384.0 590.9,384.5 591.5,384.5 592.0,393.2 592.5,393.8 593.1,395.0 593.8,408.4 594.5,418.0 595.1,423.4 595.8,433.5 596.4,422.6 597.1,406.1 597.8,387.2 598.4,374.0 599.0,384.5 599.5,393.4 600.1,408.5 600.7,421.3 601.2,415.4 601.8,396.3 602.3,390.5 602.8,379.3 603.2,392.5 603.6,409.2 604.1,431.9 604.5,447.5 605.0,437.5 605.4,428.1 605.8,421.8 606.3,417.8 606.7,422.3 607.1,424.8 607.6,422.1 608.0,430.0 608.5,415.0 608.9,410.2 609.3,390.5 609.8,381.0 610.2,379.9 610.6,376.7 611.1,378.6 611.5,374.0 612.0,386.4 612.5,399.6 613.1,408.5 613.6,419.5 614.0,408.1 614.5,399.7 615.0,390.4 615.4,386.3 615.8,386.5 616.2,376.3 616.7,372.3 617.1,374.0 617.5,387.4 617.8,388.5 618.1,404.2 618.5,409.0 619.0,404.0 619.4,406.9 619.8,403.6 620.3,405.5 620.6,409.2 620.9,407.6 621.2,408.3 621.5,407.3 621.5,502.3" fill="rgba(126,178,109,0.10)"/><rect x="85" y="436.95000000000005" width="536.5" height="65.34999999999997" fill="rgba(152,102,84,0.20)"/><line x1="85" y1="338.8" x2="621.5" y2="338.8" stroke="rgba(255,255,255,0.1)" stroke-width="1"/><text x="81" y="342.0" font-size="9.3" fill="#c8c9cc" text-anchor="end" font-weight="normal" stroke="#c8c9cc" stroke-width="0.3" >1.25</text><line x1="85" y1="371.6" x2="621.5" y2="371.6" stroke="rgba(255,255,255,0.1)" stroke-width="1"/><text x="81" y="374.8" font-size="9.3" fill="#c8c9cc" text-anchor="end" font-weight="normal" stroke="#c8c9cc" stroke-width="0.3" >1.00</text><line x1="85" y1="404.4" x2="621.5" y2="404.4" stroke="rgba(255,255,255,0.1)" stroke-width="1"/><text x="81" y="407.59999999999997" font-size="9.3" fill="#c8c9cc" text-anchor="end" font-weight="normal" stroke="#c8c9cc" stroke-width="0.3" >0.75</text><line x1="85" y1="437.0" x2="621.5" y2="437.0" stroke="rgba(255,255,255,0.1)" stroke-width="1"/><text x="81" y="440.2" font-size="9.3" fill="#c8c9cc" text-anchor="end" font-weight="normal" stroke="#c8c9cc" stroke-width="0.3" >0.50</text><line x1="85" y1="469.6" x2="621.5" y2="469.6" stroke="rgba(255,255,255,0.1)" stroke-width="1"/><text x="81" y="472.8" font-size="9.3" fill="#c8c9cc" text-anchor="end" font-weight="normal" stroke="#c8c9cc" stroke-width="0.3" >0.25</text><line x1="85" y1="502.3" x2="621.5" y2="502.3" stroke="rgba(255,255,255,0.1)" stroke-width="1"/><text x="81" y="505.5" font-size="9.3" fill="#c8c9cc" text-anchor="end" font-weight="normal" stroke="#c8c9cc" stroke-width="0.3" >0</text><line x1="100.2" y1="338.8" x2="100.2" y2="502.3" stroke="rgba(255,255,255,0.1)" stroke-width="1"/><text x="100.2" y="521.2" font-size="9.3" fill="#c8c9cc" text-anchor="middle" font-weight="normal" stroke="#c8c9cc" stroke-width="0.3" >00:00</text><line x1="189.5" y1="338.8" x2="189.5" y2="502.3" stroke="rgba(255,255,255,0.1)" stroke-width="1"/><text x="189.5" y="521.2" font-size="9.3" fill="#c8c9cc" text-anchor="middle" font-weight="normal" stroke="#c8c9cc" stroke-width="0.3" >04:00</text><line x1="279.0" y1="338.8" x2="279.0" y2="502.3" stroke="rgba(255,255,255,0.1)" stroke-width="1"/><text x="279.0" y="521.2" font-size="9.3" fill="#c8c9cc" text-anchor="middle" font-weight="normal" stroke="#c8c9cc" stroke-width="0.3" >08:00</text><line x1="369.2" y1="338.8" x2="369.2" y2="502.3" stroke="rgba(255,255,255,0.1)" stroke-width="1"/><text x="369.2" y="521.2" font-size="9.3" fill="#c8c9cc" text-anchor="middle" font-weight="normal" stroke="#c8c9cc" stroke-width="0.3" >12:00</text><line x1="458.1" y1="338.8" x2="458.1" y2="502.3" stroke="rgba(255,255,255,0.1)" stroke-width="1"/><text x="458.1" y="521.2" font-size="9.3" fill="#c8c9cc" text-anchor="middle" font-weight="normal" stroke="#c8c9cc" stroke-width="0.3" >16:00</text><line x1="547.3" y1="338.8" x2="547.3" y2="502.3" stroke="rgba(255,255,255,0.1)" stroke-width="1"/><text x="547.3" y="521.2" font-size="9.3" fill="#c8c9cc" text-anchor="middle" font-weight="normal" stroke="#c8c9cc" stroke-width="0.3" >20:00</text><line x1="85" y1="436.95000000000005" x2="621.5" y2="436.95000000000005" stroke="#c8663f" stroke-width="1.3"/><polyline points="85.0,393.3 85.5,400.3 86.0,413.0 86.5,420.9 87.0,431.9 87.3,424.4 87.7,416.1 88.1,401.9 88.4,397.7 88.9,396.1 89.5,407.6 90.0,405.1 90.5,410.8 90.8,420.8 91.2,441.2 91.6,448.6 91.9,461.6 92.2,450.3 92.5,432.0 92.8,419.0 93.1,402.9 93.5,414.5 94.0,434.5 94.5,452.0 94.9,463.4 95.6,441.7 96.2,422.0 96.8,399.4 97.5,375.8 98.0,395.5 98.5,426.6 99.1,449.0 99.6,472.2 100.2,454.4 100.8,436.0 101.3,428.5 101.9,409.1 102.4,401.8 102.8,397.2 103.2,391.8 103.7,381.0 104.1,381.0 104.6,380.9 105.0,373.4 105.4,372.3 105.9,382.8 106.3,386.6 106.8,399.0 107.2,402.1 107.6,401.5 108.1,389.3 108.5,385.3 108.9,384.5 109.4,390.0 109.8,405.8 110.2,408.8 110.7,417.8 111.1,409.0 111.6,395.7 112.0,387.6 112.4,377.5 112.9,384.3 113.3,391.8 113.8,402.1 114.2,409.1 114.6,400.9 115.1,395.1 115.5,383.9 115.9,373.1 116.4,382.0 116.8,385.9 117.2,391.8 117.7,391.5 118.1,389.3 118.6,380.3 119.0,383.3 119.4,375.8 120.1,389.2 120.8,397.3 121.4,402.7 122.1,410.8 122.5,418.6 122.9,419.3 123.4,431.2 123.8,433.6 124.5,438.3 125.1,439.3 125.8,441.1 126.4,449.4 127.1,454.2 127.8,456.9 128.4,449.2 129.1,454.6 130.0,459.8 130.8,458.1 131.7,457.7 132.6,463.4 133.0,463.5 133.4,470.5 133.9,473.7 134.3,472.2 134.8,461.5 135.2,461.0 135.7,449.2 136.1,447.6 136.8,446.3 137.4,438.9 138.0,440.9 138.7,433.6 139.1,423.1 139.6,403.0 140.1,392.6 140.5,372.3 141.2,373.4 141.8,374.2 142.4,382.4 143.1,384.5 143.6,392.1 144.1,406.0 144.7,420.4 145.2,433.6 145.8,426.4 146.3,413.5 146.9,404.0 147.5,400.3 148.1,398.1 148.7,386.6 149.2,387.1 149.8,376.6 150.3,379.5 150.9,373.2 151.4,373.0 151.9,372.3 152.3,373.8 152.8,376.3 153.2,377.2 153.6,377.5 154.1,392.6 154.6,407.7 155.2,425.3 155.7,435.4 156.0,445.5 156.4,454.9 156.8,467.8 157.1,475.7 157.6,449.9 158.0,427.3 158.4,410.8 158.9,382.8 159.3,390.9 159.8,399.0 160.2,401.5 160.6,414.3 161.1,406.5 161.5,401.1 161.9,388.5 162.4,386.3 163.1,383.7 163.7,380.2 164.3,371.6 165.0,371.4 165.4,382.1 165.9,389.9 166.4,401.5 166.8,409.1 167.2,421.7 167.7,439.2 168.1,453.6 168.5,465.2 168.9,451.2 169.4,442.4 169.9,439.3 170.3,428.3 170.7,444.8 171.2,449.5 171.6,463.4 172.0,475.7 172.4,457.4 172.9,435.4 173.4,416.5 173.8,398.6 174.2,402.4 174.7,408.6 175.1,416.6 175.5,421.3 175.9,425.9 176.4,433.2 176.9,443.7 177.3,447.6 177.7,428.4 178.2,419.4 178.6,406.6 179.0,389.8 179.7,387.9 180.3,387.0 180.9,392.8 181.6,389.8 182.1,398.6 182.5,409.5 182.9,423.4 183.4,435.4 183.8,443.9 184.3,444.5 184.8,453.3 185.2,461.6 185.7,455.1 186.2,455.3 186.8,446.6 187.3,442.4 187.9,430.6 188.4,408.4 188.9,394.7 189.5,381.0 190.2,393.9 190.8,407.6 191.5,414.7 192.2,426.6 192.8,414.2 193.5,403.5 194.2,397.9 194.8,388.0 195.4,392.4 195.9,406.0 196.5,413.7 197.1,417.8 197.6,406.8 198.1,399.8 198.7,397.2 199.2,386.3 200.1,396.9 200.9,407.8 201.8,412.4 202.7,423.1 203.3,424.2 204.0,430.7 204.7,440.5 205.3,442.4 205.8,426.5 206.2,413.7 206.7,400.8 207.1,388.0 207.7,398.6 208.2,409.9 208.8,426.4 209.3,433.6 209.8,417.5 210.4,403.2 210.9,399.9 211.4,382.8 211.8,401.5 212.3,417.5 212.8,426.8 213.2,442.4 213.8,430.7 214.5,414.2 215.2,390.9 215.8,377.5 216.5,384.8 217.2,390.5 217.8,393.6 218.5,396.8 218.9,391.7 219.3,384.2 219.8,379.5 220.2,375.8 220.8,373.1 221.5,371.6 222.2,376.7 222.8,375.8 223.5,378.5 224.2,388.6 224.8,385.7 225.5,395.1 226.2,394.3 226.8,387.4 227.4,384.9 228.1,375.8 228.7,392.5 229.2,405.2 229.8,414.7 230.4,426.6 230.9,411.2 231.4,408.0 232.0,391.7 232.5,384.5 232.9,392.1 233.3,405.4 233.8,413.7 234.2,423.1 234.6,432.8 235.1,448.5 235.6,455.8 236.0,465.2 236.4,453.5 236.8,442.5 237.3,438.5 237.7,424.8 238.3,431.1 239.0,440.8 239.7,443.0 240.3,451.1 241.0,428.4 241.6,412.0 242.2,395.2 242.9,372.3 243.3,385.2 243.8,407.6 244.2,425.1 244.6,437.1 245.1,428.3 245.5,416.7 245.9,396.7 246.4,389.8 246.8,402.0 247.2,415.3 247.7,418.1 248.1,433.6 248.8,418.2 249.4,405.0 250.1,394.4 250.8,381.0 251.2,396.9 251.7,414.0 252.1,433.7 252.5,447.6 253.2,447.0 253.8,451.9 254.5,457.1 255.2,465.2 255.5,450.5 255.8,438.9 256.1,437.0 256.4,421.3 257.0,437.6 257.5,442.6 258.1,459.5 258.7,472.2 259.4,455.5 260.0,440.5 260.6,426.0 261.3,412.6 261.8,422.8 262.4,431.0 262.9,437.5 263.4,447.6 263.8,427.9 264.2,412.6 264.7,393.9 265.1,381.0 265.7,394.7 266.2,409.5 266.8,419.3 267.4,433.6 268.1,425.4 268.8,422.5 269.4,420.5 270.1,417.8 270.5,416.7 271.0,416.3 271.4,410.1 271.8,409.1 272.2,408.2 272.7,402.4 273.2,396.6 273.6,393.3 274.1,400.3 274.6,409.9 275.2,420.3 275.7,426.6 276.2,417.9 276.8,412.8 277.3,402.6 277.9,395.1 278.5,396.9 279.0,404.2 279.6,410.2 280.2,412.6 280.7,403.5 281.2,402.2 281.8,397.4 282.3,393.3 282.9,401.5 283.6,406.4 284.2,405.2 284.9,410.8 285.3,409.1 285.8,402.3 286.2,391.3 286.7,388.0 287.1,399.0 287.6,407.0 288.1,425.3 288.5,433.6 289.1,424.7 289.8,416.4 290.5,404.9 291.1,391.5 291.8,405.9 292.4,419.3 293.1,430.3 293.7,442.4 294.3,433.2 294.9,432.7 295.4,421.6 296.0,421.3 296.5,410.3 297.1,409.1 297.6,394.4 298.1,391.5 298.5,388.3 299.0,389.3 299.4,398.0 299.8,395.1 300.5,386.0 301.1,378.5 301.8,380.7 302.5,371.4 303.1,371.6 303.8,378.8 304.5,379.1 305.1,379.3 305.8,380.7 306.4,379.9 307.1,374.2 307.7,371.4 308.4,377.2 309.0,372.5 309.7,382.6 310.4,382.8 311.0,391.2 311.7,401.6 312.4,403.8 313.0,416.1 313.6,425.6 314.3,434.4 315.0,432.7 315.6,444.1 316.1,428.3 316.6,416.7 317.2,405.3 317.7,388.0 318.3,387.6 318.9,389.2 319.4,392.1 320.0,396.8 320.6,395.3 321.3,394.1 322.0,387.9 322.6,386.3 323.3,387.2 324.0,389.7 324.6,391.4 325.3,395.1 325.7,400.0 326.1,402.3 326.6,412.1 327.0,417.8 327.4,430.4 327.9,432.7 328.4,444.0 328.8,449.4 329.4,429.4 330.1,418.0 330.8,402.0 331.4,382.8 332.0,389.8 332.7,393.5 333.4,398.4 334.0,403.8 334.6,398.2 335.1,393.8 335.7,379.3 336.3,375.8 336.9,379.2 337.6,393.2 338.2,402.3 338.8,405.6 339.4,398.7 339.9,391.0 340.4,386.7 341.0,377.5 341.7,380.1 342.4,386.6 343.0,391.6 343.7,400.3 344.5,411.7 345.2,419.5 346.0,429.2 346.8,442.4 347.3,428.5 347.9,415.4 348.4,393.0 348.9,379.3 349.5,379.4 350.2,374.5 350.9,376.9 351.5,371.4 352.2,375.1 352.9,374.8 353.5,377.1 354.2,382.8 354.7,392.1 355.2,410.6 355.8,423.7 356.3,438.9 356.9,420.7 357.5,407.7 358.0,392.4 358.6,379.3 359.2,387.7 359.9,387.1 360.6,401.3 361.2,402.1 361.6,394.4 362.0,388.2 362.5,379.4 362.9,372.3 363.6,377.8 364.2,379.9 364.9,379.4 365.6,381.0 366.2,379.1 366.9,379.7 367.6,379.3 368.2,374.0 368.9,377.4 369.5,385.1 370.1,391.7 370.8,391.5 371.5,387.7 372.1,381.8 372.8,378.3 373.5,377.5 374.1,382.3 374.8,384.5 375.5,390.0 376.1,388.0 376.8,387.6 377.4,377.6 378.1,373.1 378.7,372.3 379.4,378.2 380.0,385.8 380.6,399.3 381.3,405.6 382.0,404.4 382.6,399.9 383.3,388.7 384.0,386.3 384.6,386.9 385.3,378.3 386.0,376.3 386.6,374.0 387.2,381.6 387.9,380.4 388.6,385.8 389.2,395.1 389.9,392.7 390.5,381.6 391.2,376.6 391.9,372.3 392.3,373.1 392.7,374.1 393.1,371.6 393.5,372.3 394.4,371.6 395.2,371.7 396.1,372.2 397.0,372.3 397.6,371.6 398.3,373.2 399.0,376.9 399.6,372.3 400.3,375.1 401.0,380.6 401.6,380.3 402.3,388.0 402.9,384.0 403.6,386.2 404.2,378.9 404.9,381.0 405.2,390.6 405.5,396.5 405.8,394.1 406.1,403.8 406.5,401.6 406.8,389.4 407.1,386.8 407.5,377.5 408.0,382.3 408.6,379.9 409.1,385.9 409.6,386.3 410.2,384.8 410.8,383.2 411.3,374.7 411.9,374.0 412.5,382.2 413.0,390.0 413.6,392.8 414.2,396.8 414.7,391.0 415.2,380.7 415.8,378.4 416.3,372.3 416.9,381.8 417.6,396.4 418.2,406.9 418.9,416.1 419.3,406.2 419.8,391.9 420.2,386.0 420.7,374.0 421.4,377.5 422.0,375.2 422.6,384.5 423.3,382.8 423.9,381.7 424.6,373.8 425.2,379.2 425.9,372.3 426.6,374.4 427.4,382.0 428.1,391.6 428.9,395.1 429.5,390.4 430.0,384.2 430.6,379.5 431.2,372.3 431.9,374.1 432.5,374.8 433.1,375.6 433.8,381.0 434.4,374.5 435.1,378.8 435.8,377.0 436.4,372.3 437.1,374.5 437.8,378.2 438.4,376.1 439.1,379.3 439.8,380.9 440.4,386.0 441.1,394.9 441.7,395.1 442.1,408.0 442.6,430.2 443.1,445.1 443.5,465.2 444.1,444.7 444.8,417.3 445.5,393.9 446.1,372.3 446.8,374.8 447.4,379.7 448.1,385.5 448.7,386.3 449.4,401.0 450.0,422.2 450.6,431.0 451.3,451.1 451.8,429.1 452.2,407.7 452.7,388.1 453.1,372.3 453.8,377.3 454.4,378.9 455.1,375.7 455.7,381.0 456.4,375.7 457.0,375.8 457.6,376.9 458.3,372.3 459.1,385.5 459.9,394.9 460.7,403.4 461.5,412.6 462.0,399.0 462.6,391.4 463.1,379.3 463.6,372.3 464.5,398.4 465.4,424.7 466.2,446.9 467.1,475.7 467.6,447.4 468.0,426.8 468.4,393.5 468.9,372.3 469.5,378.8 470.2,383.2 470.9,387.3 471.5,386.3 472.1,381.6 472.8,379.8 473.5,376.6 474.1,372.3 474.8,375.8 475.5,381.4 476.1,380.7 476.8,381.0 477.4,384.7 477.9,396.0 478.4,397.9 479.0,403.8 479.5,396.9 480.1,390.3 480.6,375.2 481.1,372.3 481.8,377.6 482.5,379.2 483.1,380.1 483.8,382.8 484.4,390.0 485.1,396.4 485.8,400.7 486.4,410.8 487.0,401.5 487.7,386.9 488.4,381.9 489.0,372.3 489.6,376.4 490.3,377.0 491.0,380.8 491.6,382.8 492.2,394.8 492.7,401.6 493.2,401.5 493.8,412.6 494.2,426.9 494.6,436.6 495.1,442.2 495.5,458.1 495.9,436.1 496.4,414.3 496.9,392.2 497.3,375.8 497.9,385.4 498.4,398.5 498.9,401.6 499.5,412.6 499.9,422.4 500.4,426.8 500.9,427.3 501.3,437.1 501.7,424.5 502.1,405.7 502.6,392.8 503.0,372.3 503.7,384.5 504.4,394.8 505.0,401.0 505.7,412.6 506.4,405.6 507.0,396.8 507.6,386.0 508.3,372.3 508.9,373.8 509.6,379.2 510.2,378.7 510.9,381.0 511.4,390.7 511.8,403.6 512.2,417.6 512.7,435.4 513.4,417.9 514.0,403.1 514.6,391.9 515.3,377.5 515.6,393.5 515.9,405.9 516.2,418.8 516.5,433.6 517.3,420.2 518.1,401.8 518.9,388.5 519.7,374.0 520.2,380.1 520.8,380.0 521.3,381.3 521.8,388.0 522.4,413.0 523.0,432.3 523.5,449.8 524.1,472.2 524.6,445.9 525.2,422.5 525.8,398.2 526.3,372.3 526.8,388.4 527.4,405.0 528.0,425.9 528.5,447.6 528.9,439.5 529.4,422.1 529.8,414.3 530.2,403.8 530.7,415.2 531.1,429.8 531.5,443.9 532.0,461.6 532.6,439.2 533.3,415.4 534.0,392.5 534.6,375.8 535.2,389.0 535.9,406.6 536.6,426.9 537.2,444.1 537.7,421.7 538.1,403.4 538.5,389.7 539.0,372.3 539.6,371.8 540.3,375.2 541.0,371.6 541.6,374.0 542.2,374.8 542.9,376.5 543.6,374.5 544.2,381.0 544.4,388.3 544.6,383.4 544.8,384.8 545.0,391.5 545.5,390.8 546.0,387.3 546.6,391.4 547.1,389.8 547.5,383.9 548.0,377.3 548.5,372.2 548.9,372.3 549.5,388.1 550.0,397.2 550.5,415.8 551.1,426.5 551.4,417.0 551.8,412.5 552.1,397.0 552.4,389.8 552.8,407.8 553.1,428.6 553.4,454.6 553.8,472.0 554.2,471.5 554.6,466.9 555.1,462.7 555.5,465.0 556.0,453.7 556.4,443.4 556.8,426.5 557.3,412.5 557.7,401.0 558.1,394.7 558.6,388.8 559.0,386.3 559.5,385.2 559.9,386.0 560.3,388.4 560.8,395.0 561.2,392.2 561.6,390.3 562.1,378.9 562.5,377.5 563.1,382.7 563.8,378.2 564.5,381.9 565.1,379.3 565.7,381.7 566.2,380.2 566.8,371.6 567.4,372.3 567.9,373.8 568.5,380.4 569.0,387.3 569.5,386.3 570.0,383.9 570.4,387.7 570.8,395.0 571.3,393.3 571.7,385.1 572.1,383.4 572.6,378.5 573.0,375.8 573.6,376.7 574.3,378.3 575.0,371.6 575.6,372.3 576.0,377.3 576.5,379.9 577.0,383.5 577.4,382.8 578.0,382.5 578.5,385.3 579.1,378.8 579.7,379.3 580.2,377.1 580.8,373.9 581.3,378.1 581.8,374.0 582.1,391.3 582.5,406.7 582.9,423.2 583.2,444.0 583.7,434.0 584.2,420.6 584.8,409.4 585.3,395.0 585.7,402.2 586.1,411.5 586.6,416.5 587.0,428.3 587.5,423.0 587.9,408.6 588.3,405.6 588.8,398.5 589.3,397.6 589.8,393.3 590.4,384.0 590.9,384.5 591.5,384.5 592.0,393.2 592.5,393.8 593.1,395.0 593.8,408.4 594.5,418.0 595.1,423.4 595.8,433.5 596.4,422.6 597.1,406.1 597.8,387.2 598.4,374.0 599.0,384.5 599.5,393.4 600.1,408.5 600.7,421.3 601.2,415.4 601.8,396.3 602.3,390.5 602.8,379.3 603.2,392.5 603.6,409.2 604.1,431.9 604.5,447.5 605.0,437.5 605.4,428.1 605.8,421.8 606.3,417.8 606.7,422.3 607.1,424.8 607.6,422.1 608.0,430.0 608.5,415.0 608.9,410.2 609.3,390.5 609.8,381.0 610.2,379.9 610.6,376.7 611.1,378.6 611.5,374.0 612.0,386.4 612.5,399.6 613.1,408.5 613.6,419.5 614.0,408.1 614.5,399.7 615.0,390.4 615.4,386.3 615.8,386.5 616.2,376.3 616.7,372.3 617.1,374.0 617.5,387.4 617.8,388.5 618.1,404.2 618.5,409.0 619.0,404.0 619.4,406.9 619.8,403.6 620.3,405.5 620.6,409.2 620.9,407.6 621.2,408.3 621.5,407.3" fill="none" stroke="#98c27e" stroke-width="1.2" stroke-linejoin="round"/><line x1="105.6" y1="338.8" x2="105.6" y2="505" stroke="#cf8a4e" stroke-width="1" stroke-dasharray="2,2"/><path d="M102.1 507.5 L105.6 503.5 L109.1 507.5 Z" fill="#cf8a4e"/><line x1="135.5" y1="338.8" x2="135.5" y2="505" stroke="#cf8a4e" stroke-width="1" stroke-dasharray="2,2"/><path d="M132.0 507.5 L135.5 503.5 L139.0 507.5 Z" fill="#cf8a4e"/><line x1="202" y1="338.8" x2="202" y2="505" stroke="#cf8a4e" stroke-width="1" stroke-dasharray="2,2"/><path d="M198.5 507.5 L202 503.5 L205.5 507.5 Z" fill="#cf8a4e"/><line x1="231.2" y1="338.8" x2="231.2" y2="505" stroke="#cf8a4e" stroke-width="1" stroke-dasharray="2,2"/><path d="M227.7 507.5 L231.2 503.5 L234.7 507.5 Z" fill="#cf8a4e"/><line x1="261.1" y1="338.8" x2="261.1" y2="505" stroke="#cf8a4e" stroke-width="1" stroke-dasharray="2,2"/><path d="M257.6 507.5 L261.1 503.5 L264.6 507.5 Z" fill="#cf8a4e"/><line x1="297.6" y1="338.8" x2="297.6" y2="505" stroke="#cf8a4e" stroke-width="1" stroke-dasharray="2,2"/><path d="M294.1 507.5 L297.6 503.5 L301.1 507.5 Z" fill="#cf8a4e"/><line x1="331.4" y1="338.8" x2="331.4" y2="505" stroke="#cf8a4e" stroke-width="1" stroke-dasharray="2,2"/><path d="M327.9 507.5 L331.4 503.5 L334.9 507.5 Z" fill="#cf8a4e"/><line x1="382.2" y1="338.8" x2="382.2" y2="505" stroke="#cf8a4e" stroke-width="1" stroke-dasharray="2,2"/><path d="M378.7 507.5 L382.2 503.5 L385.7 507.5 Z" fill="#cf8a4e"/><line x1="419.2" y1="338.8" x2="419.2" y2="505" stroke="#cf8a4e" stroke-width="1" stroke-dasharray="2,2"/><path d="M415.7 507.5 L419.2 503.5 L422.7 507.5 Z" fill="#cf8a4e"/><line x1="441.6" y1="338.8" x2="441.6" y2="505" stroke="#cf8a4e" stroke-width="1" stroke-dasharray="2,2"/><path d="M438.1 507.5 L441.6 503.5 L445.1 507.5 Z" fill="#cf8a4e"/><line x1="490.5" y1="338.8" x2="490.5" y2="505" stroke="#cf8a4e" stroke-width="1" stroke-dasharray="2,2"/><path d="M487.0 507.5 L490.5 503.5 L494.0 507.5 Z" fill="#cf8a4e"/><line x1="520" y1="338.8" x2="520" y2="505" stroke="#cf8a4e" stroke-width="1" stroke-dasharray="2,2"/><path d="M516.5 507.5 L520 503.5 L523.5 507.5 Z" fill="#cf8a4e"/><line x1="600.5" y1="338.8" x2="600.5" y2="505" stroke="#cf8a4e" stroke-width="1" stroke-dasharray="2,2"/><path d="M597.0 507.5 L600.5 503.5 L604.0 507.5 Z" fill="#cf8a4e"/><line x1="497.8" y1="338.8" x2="497.8" y2="505" stroke="#b5503f" stroke-width="1" stroke-dasharray="2,2"/><path d="M494.3 507.5 L497.8 503.5 L501.3 507.5 Z" fill="#b5503f"/><line x1="527" y1="338.8" x2="527" y2="505" stroke="#b5503f" stroke-width="1" stroke-dasharray="2,2"/><path d="M523.5 507.5 L527 503.5 L530.5 507.5 Z" fill="#b5503f"/><line x1="607.8" y1="338.8" x2="607.8" y2="505" stroke="#b5503f" stroke-width="1" stroke-dasharray="2,2"/><path d="M604.3 507.5 L607.8 503.5 L611.3 507.5 Z" fill="#b5503f"/><line x1="113" y1="338.8" x2="113" y2="505" stroke="#5cae55" stroke-width="1" stroke-dasharray="2,2"/><path d="M109.5 507.5 L113 503.5 L116.5 507.5 Z" fill="#5cae55"/><line x1="142.9" y1="338.8" x2="142.9" y2="505" stroke="#5cae55" stroke-width="1" stroke-dasharray="2,2"/><path d="M139.4 507.5 L142.9 503.5 L146.4 507.5 Z" fill="#5cae55"/><line x1="209.4" y1="338.8" x2="209.4" y2="505" stroke="#5cae55" stroke-width="1" stroke-dasharray="2,2"/><path d="M205.9 507.5 L209.4 503.5 L212.9 507.5 Z" fill="#5cae55"/><line x1="238.6" y1="338.8" x2="238.6" y2="505" stroke="#5cae55" stroke-width="1" stroke-dasharray="2,2"/><path d="M235.1 507.5 L238.6 503.5 L242.1 507.5 Z" fill="#5cae55"/><line x1="268.5" y1="338.8" x2="268.5" y2="505" stroke="#5cae55" stroke-width="1" stroke-dasharray="2,2"/><path d="M265.0 507.5 L268.5 503.5 L272.0 507.5 Z" fill="#5cae55"/><line x1="304.9" y1="338.8" x2="304.9" y2="505" stroke="#5cae55" stroke-width="1" stroke-dasharray="2,2"/><path d="M301.4 507.5 L304.9 503.5 L308.4 507.5 Z" fill="#5cae55"/><line x1="338.6" y1="338.8" x2="338.6" y2="505" stroke="#5cae55" stroke-width="1" stroke-dasharray="2,2"/><path d="M335.1 507.5 L338.6 503.5 L342.1 507.5 Z" fill="#5cae55"/><line x1="389.7" y1="338.8" x2="389.7" y2="505" stroke="#5cae55" stroke-width="1" stroke-dasharray="2,2"/><path d="M386.2 507.5 L389.7 503.5 L393.2 507.5 Z" fill="#5cae55"/><line x1="426.8" y1="338.8" x2="426.8" y2="505" stroke="#5cae55" stroke-width="1" stroke-dasharray="2,2"/><path d="M423.3 507.5 L426.8 503.5 L430.3 507.5 Z" fill="#5cae55"/><line x1="446.2" y1="338.8" x2="446.2" y2="505" stroke="#5cae55" stroke-width="1" stroke-dasharray="2,2"/><path d="M442.7 507.5 L446.2 503.5 L449.7 507.5 Z" fill="#5cae55"/><line x1="512.7" y1="338.8" x2="512.7" y2="505" stroke="#5cae55" stroke-width="1" stroke-dasharray="2,2"/><path d="M509.20000000000005 507.5 L512.7 503.5 L516.2 507.5 Z" fill="#5cae55"/><line x1="534" y1="338.8" x2="534" y2="505" stroke="#5cae55" stroke-width="1" stroke-dasharray="2,2"/><path d="M530.5 507.5 L534 503.5 L537.5 507.5 Z" fill="#5cae55"/><line x1="615.4" y1="338.8" x2="615.4" y2="505" stroke="#5cae55" stroke-width="1" stroke-dasharray="2,2"/><path d="M611.9 507.5 L615.4 503.5 L618.9 507.5 Z" fill="#5cae55"/><line x1="72" y1="537" x2="80" y2="537" stroke="#8fa677" stroke-width="1.3"/><text x="85.3" y="540.2" font-size="9.3" fill="#d8d9da" text-anchor="start" font-weight="normal" textLength="78.2" lengthAdjust="spacingAndGlyphs" stroke="#d8d9da" stroke-width="0.3" >success&#160;&#160;Avg: 0.775</text><polygon points="672.3,507.5 672.3,493.6 673.9,500.2 675.9,497.5 677.9,504.1 679.9,498.9 681.8,505.4 683.8,501.5 685.8,506.7 687.7,488.3 689.1,504.1 691.0,506.1 692.3,506.4 693.7,504.1 695.0,504.3 696.3,506.1 697.6,506.1 698.9,505.4 700.2,503.4 701.5,504.1 702.9,504.4 704.2,505.4 705.5,505.3 706.8,504.1 708.1,503.1 709.4,501.5 711.4,493.6 712.7,494.9 714.0,479.1 716.0,481.8 718.0,477.8 719.3,467.3 720.6,459.4 721.9,472.6 723.2,456.8 724.5,479.1 726.5,493.6 727.8,504.1 729.8,505.4 731.8,498.9 733.1,502.8 735.1,504.1 737.0,505.4 739.0,504.1 741.0,501.5 742.9,493.6 744.9,439.7 746.2,493.6 747.5,502.8 749.5,504.1 751.5,505.4 752.8,504.3 754.1,501.5 756.1,483.1 757.4,438.4 758.7,480.5 760.0,360.1 761.3,483.1 762.7,496.2 764.6,504.1 766.6,504.1 768.6,501.5 770.5,488.3 771.9,464.7 773.8,466.0 775.1,459.4 776.5,479.1 777.8,463.4 778.2,499.6 779.4,500.7 780.6,504.4 781.8,504.7 783.0,506.0 784.6,506.7 786.2,505.2 787.8,505.8 789.5,506.0 791.1,505.8 792.7,506.0 794.3,504.9 795.9,504.4 797.5,506.6 799.1,506.0 800.7,505.8 802.3,505.2 803.9,504.1 805.5,506.0 807.1,506.1 808.7,504.4 810.3,504.7 811.9,506.0 813.5,505.0 815.1,504.4 816.4,502.7 817.6,502.8 819.2,475.5 820.8,504.4 822.0,501.8 823.2,499.6 825.1,481.9 826.7,498.0 828.8,493.1 830.0,497.4 831.2,502.8 832.4,499.9 833.6,499.6 834.8,502.4 836.0,504.4 837.2,499.2 838.4,496.4 840.0,469.1 841.6,467.4 843.3,459.4 845.2,469.1 846.8,417.7 848.4,428.9 849.7,496.4 850.8,467.4 852.4,433.7 853.7,499.6 854.9,495.6 856.1,489.9 858.2,469.1 860.1,496.4 861.3,490.9 862.5,488.3 863.7,493.2 864.9,496.4 866.1,494.9 867.3,491.5 868.5,495.5 869.7,499.6 871.0,497.0 872.2,493.1 873.4,496.4 874.6,501.2 875.8,493.1 877.0,483.5 878.2,491.3 879.4,499.6 880.6,497.2 881.8,496.4 883.6,501.3 885.6,500.3 887.2,505.4 889.2,504.4 891.2,506.5 893.3,506.5 895.3,507.3 897.4,506.5 899.4,507.0 901.5,501.3 903.5,499.3 905.1,505.4 906.6,503.9 908.6,504.9 910.7,504.4 912.7,503.4 914.8,501.3 916.3,487.0 917.8,486.0 919.4,501.3 920.9,505.4 922.9,503.4 925.0,506.5 927.0,505.4 929.1,506.5 931.1,504.4 933.2,505.4 934.4,504.8 935.7,501.3 937.3,506.0 939.3,503.4 941.3,506.5 942.9,505.7 944.4,505.4 945.4,493.2 946.5,505.4 948.5,506.5 950.6,504.4 952.6,506.5 954.1,505.6 955.7,505.4 957.2,506.0 958.7,504.4 960.3,504.5 961.8,505.4 963.3,506.5 964.9,506.5 966.4,505.0 967.9,505.4 970.0,506.5 971.5,507.0 973.0,505.4 974.6,505.2 976.1,506.5 978.2,505.4 979.7,502.0 981.2,501.3 982.2,506.5 983.8,507.3 985.3,505.4 986.7,505.0 988.1,506.5 989.6,507.3 991.1,505.4 992.7,506.4 994.2,504.4 995.7,505.8 997.3,506.5 999.3,504.5 1001.4,505.4 1003.4,504.6 1005.4,506.5 1007.5,500.3 1009.0,506.5 1011.3,505.6 1013.6,506.5 1015.7,505.6 1017.7,505.4 1019.8,506.5 1021.8,507.0 1023.9,507.3 1025.9,506.5 1027.9,505.5 1030.0,505.4 1031.3,500.3 1032.5,497.3 1033.6,489.1 1034.6,505.4 1036.4,505.1 1038.2,504.4 1039.7,502.3 1041.2,502.4 1042.8,506.5 1044.6,504.7 1046.3,505.4 1048.4,506.1 1050.4,506.5 1052.5,506.5 1054.5,505.4 1056.6,502.4 1058.6,506.5 1060.7,504.6 1062.7,505.4 1064.8,505.8 1066.8,506.5 1068.8,504.4 1070.9,506.5 1072.9,506.6 1075.0,505.4 1077.0,506.7 1079.1,506.5 1081.1,506.1 1083.2,506.5 1085.2,507.3 1087.2,506.5 1089.3,505.5 1091.3,506.5 1092.7,506.6 1094.1,505.4 1096.1,506.4 1098.2,503.4 1100.2,506.4 1101.5,504.7 1102.8,501.3 1104.3,504.4 1106.4,506.4 1107.6,507.1 1108.9,505.4 1110.2,504.4 1111.5,503.4 1113.0,503.2 1114.5,505.4 1116.1,491.3 1117.6,479.9 1119.6,504.4 1121.7,506.4 1123.2,501.9 1124.8,497.2 1126.0,500.3 1127.3,505.4 1129.1,506.3 1130.9,506.4 1132.4,504.7 1133.9,505.4 1135.5,502.3 1136.8,504.7 1138.0,505.4 1139.6,503.6 1141.1,503.4 1143.1,471.7 1144.7,504.4 1146.2,503.4 1148.3,496.2 1150.3,505.4 1151.8,503.4 1153.4,504.4 1154.9,504.4 1156.4,506.4 1158.0,505.3 1159.5,504.4 1161.5,501.3 1163.6,505.4 1165.6,506.1 1167.7,506.4 1169.7,505.6 1171.8,505.4 1173.8,491.1 1175.9,501.3 1177.9,489.1 1179.9,502.3 1181.5,501.9 1183.0,503.4 1184.5,488.5 1186.1,473.7 1188.1,505.4 1190.2,473.7 1192.2,506.4 1194.3,488.0 1196.3,505.4 1198.3,501.3 1200.4,505.4 1202.4,503.4 1204.0,505.7 1205.5,505.4 1207.0,502.5 1208.6,499.3 1210.4,499.1 1212.3,496.2 1212.3,507.5" fill="rgba(126,178,109,0.10)"/><polygon points="672.3,507.5 672.3,485.7 673.7,493.6 675.3,488.3 677.2,497.5 678.5,484.4 679.9,494.9 681.8,491.6 683.1,496.2 684.7,493.6 686.4,498.9 688.4,491.0 689.7,497.5 691.7,496.2 693.7,500.2 695.6,495.6 697.6,498.2 699.6,494.9 701.5,495.6 703.5,492.9 705.5,493.6 707.5,491.0 709.4,492.9 711.4,489.7 713.4,491.6 715.3,488.3 717.3,492.3 719.3,490.3 721.3,493.6 723.2,491.0 725.2,493.6 727.2,496.2 728.5,498.9 730.5,494.9 731.8,491.0 733.1,494.9 735.1,485.7 737.0,488.3 739.0,480.5 741.0,469.3 742.5,475.2 743.9,488.3 745.2,493.6 746.9,498.9 748.9,496.2 750.8,494.9 752.8,496.2 754.8,488.3 756.1,485.7 757.8,481.8 759.4,487.0 761.3,493.6 763.3,498.9 765.3,496.2 767.3,498.9 769.2,494.9 771.2,483.1 773.2,488.3 774.5,472.6 776.5,475.2 777.8,481.8 778.2,496.4 779.8,499.6 781.0,501.0 782.2,502.8 783.4,498.1 784.6,494.7 786.6,489.1 788.7,498.0 789.9,497.8 791.1,501.2 792.3,502.2 793.5,499.6 794.7,498.3 795.9,502.0 797.5,500.0 799.1,498.0 800.3,499.1 801.5,496.4 802.7,491.0 803.9,489.9 805.1,491.0 806.3,491.5 807.5,492.1 808.7,491.5 809.9,493.3 811.1,499.6 812.3,497.4 813.5,496.4 814.7,499.8 816.0,501.2 817.2,499.3 818.4,498.0 819.6,501.5 820.8,502.8 822.0,497.9 823.2,496.4 824.4,493.4 825.6,493.1 826.8,494.4 828.0,499.6 829.2,498.0 830.4,496.4 831.6,497.7 832.8,494.7 834.0,493.6 835.2,491.5 836.4,490.5 837.6,486.7 838.8,487.7 840.0,489.9 841.2,487.9 842.4,483.5 843.7,483.1 844.9,486.7 846.1,482.5 847.3,480.3 849.2,475.5 851.3,483.5 852.5,486.0 853.7,486.7 855.3,481.9 856.5,487.0 857.7,489.9 858.9,486.3 860.1,483.5 861.6,476.6 863.0,473.9 864.9,481.9 866.1,478.3 867.3,477.1 868.5,473.2 869.7,472.3 871.0,474.4 872.2,478.7 873.4,475.4 874.6,469.1 875.8,470.8 877.0,475.5 878.2,474.2 879.4,469.1 880.6,478.2 881.8,483.5 883.6,489.1 885.6,493.2 887.7,490.1 889.7,492.1 891.8,489.1 893.3,485.0 895.3,497.3 897.4,492.1 899.4,494.2 901.5,495.2 903.5,497.3 905.6,493.2 907.1,488.1 908.6,492.1 910.7,491.1 912.7,493.2 914.8,488.1 916.8,493.2 918.9,492.1 920.9,494.2 922.9,497.3 925.0,495.2 927.0,501.3 929.1,500.3 931.1,496.2 933.2,499.3 935.2,497.3 937.3,499.3 939.3,495.2 941.3,489.1 943.4,491.1 945.4,493.2 947.5,495.2 949.5,497.3 951.6,495.2 953.6,492.1 955.7,493.2 956.9,487.9 958.2,487.0 959.5,489.0 960.8,492.1 962.8,493.2 964.9,494.2 966.9,497.3 969.0,501.3 971.0,500.3 973.0,498.3 975.1,496.2 977.1,490.1 979.2,494.2 981.2,491.1 983.3,490.1 985.3,493.2 987.0,496.2 988.3,495.2 989.6,494.2 991.4,490.5 993.2,491.6 995.2,497.3 996.5,495.9 997.8,495.2 999.1,498.8 1000.3,498.3 1001.9,497.4 1003.4,500.3 1004.9,497.0 1006.5,492.7 1007.8,492.0 1009.0,495.2 1010.3,495.1 1011.6,494.2 1013.1,496.9 1014.7,495.7 1016.2,494.5 1017.7,496.2 1019.3,495.3 1020.8,499.3 1022.3,496.2 1023.9,497.3 1025.9,499.3 1027.9,497.3 1030.0,499.3 1032.0,497.3 1033.6,502.4 1035.1,495.2 1037.1,501.3 1038.7,495.2 1040.7,500.3 1042.3,498.3 1044.3,497.3 1046.3,497.3 1048.4,495.2 1050.4,499.3 1052.5,502.4 1054.5,498.3 1056.6,502.4 1058.6,497.3 1060.7,501.3 1062.7,497.3 1064.8,501.3 1066.8,497.3 1068.8,500.3 1070.9,501.3 1072.9,500.3 1075.0,503.4 1077.0,501.3 1079.1,502.4 1081.1,503.4 1083.2,505.4 1084.7,505.6 1086.2,505.4 1087.8,503.0 1089.3,505.4 1090.8,503.4 1092.4,505.4 1094.1,505.4 1096.1,498.3 1097.4,496.7 1098.7,495.2 1100.0,499.3 1101.2,499.3 1103.3,494.2 1105.3,500.3 1106.6,497.3 1107.9,495.2 1109.4,496.2 1111.5,488.0 1112.7,491.1 1114.0,495.2 1115.3,499.0 1116.6,501.3 1118.6,493.1 1120.7,503.4 1122.7,497.2 1124.0,491.1 1125.3,489.1 1127.3,498.3 1129.3,489.1 1130.6,488.9 1131.9,488.0 1133.4,485.9 1135.0,487.0 1136.2,487.0 1137.5,486.0 1138.8,487.3 1140.1,483.9 1141.4,481.2 1142.6,482.9 1143.9,492.4 1145.2,501.3 1147.2,499.3 1149.3,489.1 1151.3,483.9 1152.9,476.8 1154.4,468.6 1155.7,474.5 1156.9,483.9 1159.0,474.8 1160.3,476.7 1161.5,480.9 1163.1,478.8 1165.1,482.9 1167.2,478.8 1169.2,490.1 1171.3,488.0 1173.3,493.1 1174.6,491.0 1175.9,483.9 1177.9,488.0 1179.9,479.9 1181.2,483.4 1182.5,481.9 1184.5,475.8 1186.6,470.7 1188.6,483.9 1190.7,472.7 1192.7,480.9 1194.8,493.1 1196.8,489.1 1198.9,478.8 1200.9,486.0 1202.9,494.2 1204.2,493.8 1205.5,497.2 1207.0,502.3 1209.1,489.1 1210.7,485.0 1212.3,478.8 1212.3,507.5" fill="rgba(234,184,57,0.10)"/><line x1="672.3" y1="338.5" x2="1212.3" y2="338.5" stroke="rgba(255,255,255,0.1)" stroke-width="1"/><text x="669" y="341.7" font-size="9.3" fill="#c8c9cc" text-anchor="end" font-weight="normal" stroke="#c8c9cc" stroke-width="0.3" >500</text><line x1="672.3" y1="372.2" x2="1212.3" y2="372.2" stroke="rgba(255,255,255,0.1)" stroke-width="1"/><text x="669" y="375.4" font-size="9.3" fill="#c8c9cc" text-anchor="end" font-weight="normal" stroke="#c8c9cc" stroke-width="0.3" >400</text><line x1="672.3" y1="406.0" x2="1212.3" y2="406.0" stroke="rgba(255,255,255,0.1)" stroke-width="1"/><text x="669" y="409.2" font-size="9.3" fill="#c8c9cc" text-anchor="end" font-weight="normal" stroke="#c8c9cc" stroke-width="0.3" >300</text><line x1="672.3" y1="439.7" x2="1212.3" y2="439.7" stroke="rgba(255,255,255,0.1)" stroke-width="1"/><text x="669" y="442.9" font-size="9.3" fill="#c8c9cc" text-anchor="end" font-weight="normal" stroke="#c8c9cc" stroke-width="0.3" >200</text><line x1="672.3" y1="473.4" x2="1212.3" y2="473.4" stroke="rgba(255,255,255,0.1)" stroke-width="1"/><text x="669" y="476.59999999999997" font-size="9.3" fill="#c8c9cc" text-anchor="end" font-weight="normal" stroke="#c8c9cc" stroke-width="0.3" >100</text><line x1="672.3" y1="507.5" x2="1212.3" y2="507.5" stroke="rgba(255,255,255,0.1)" stroke-width="1"/><text x="669" y="510.7" font-size="9.3" fill="#c8c9cc" text-anchor="end" font-weight="normal" stroke="#c8c9cc" stroke-width="0.3" >0</text><line x1="688.4" y1="338.5" x2="688.4" y2="507.5" stroke="rgba(255,255,255,0.1)" stroke-width="1"/><text x="688.4" y="521" font-size="9.3" fill="#c8c9cc" text-anchor="middle" font-weight="normal" stroke="#c8c9cc" stroke-width="0.3" >00:00</text><line x1="778.3" y1="338.5" x2="778.3" y2="507.5" stroke="rgba(255,255,255,0.1)" stroke-width="1"/><text x="778.3" y="521" font-size="9.3" fill="#c8c9cc" text-anchor="middle" font-weight="normal" stroke="#c8c9cc" stroke-width="0.3" >04:00</text><line x1="868.3" y1="338.5" x2="868.3" y2="507.5" stroke="rgba(255,255,255,0.1)" stroke-width="1"/><text x="868.3" y="521" font-size="9.3" fill="#c8c9cc" text-anchor="middle" font-weight="normal" stroke="#c8c9cc" stroke-width="0.3" >08:00</text><line x1="958.2" y1="338.5" x2="958.2" y2="507.5" stroke="rgba(255,255,255,0.1)" stroke-width="1"/><text x="958.2" y="521" font-size="9.3" fill="#c8c9cc" text-anchor="middle" font-weight="normal" stroke="#c8c9cc" stroke-width="0.3" >12:00</text><line x1="1048.1" y1="338.5" x2="1048.1" y2="507.5" stroke="rgba(255,255,255,0.1)" stroke-width="1"/><text x="1048.1" y="521" font-size="9.3" fill="#c8c9cc" text-anchor="middle" font-weight="normal" stroke="#c8c9cc" stroke-width="0.3" >16:00</text><line x1="1138.0" y1="338.5" x2="1138.0" y2="507.5" stroke="rgba(255,255,255,0.1)" stroke-width="1"/><text x="1138.0" y="521" font-size="9.3" fill="#c8c9cc" text-anchor="middle" font-weight="normal" stroke="#c8c9cc" stroke-width="0.3" >20:00</text><polyline points="672.3,493.6 673.9,500.2 675.9,497.5 677.9,504.1 679.9,498.9 681.8,505.4 683.8,501.5 685.8,506.7 687.7,488.3 689.1,504.1 691.0,506.1 692.3,506.4 693.7,504.1 695.0,504.3 696.3,506.1 697.6,506.1 698.9,505.4 700.2,503.4 701.5,504.1 702.9,504.4 704.2,505.4 705.5,505.3 706.8,504.1 708.1,503.1 709.4,501.5 711.4,493.6 712.7,494.9 714.0,479.1 716.0,481.8 718.0,477.8 719.3,467.3 720.6,459.4 721.9,472.6 723.2,456.8 724.5,479.1 726.5,493.6 727.8,504.1 729.8,505.4 731.8,498.9 733.1,502.8 735.1,504.1 737.0,505.4 739.0,504.1 741.0,501.5 742.9,493.6 744.9,439.7 746.2,493.6 747.5,502.8 749.5,504.1 751.5,505.4 752.8,504.3 754.1,501.5 756.1,483.1 757.4,438.4 758.7,480.5 760.0,360.1 761.3,483.1 762.7,496.2 764.6,504.1 766.6,504.1 768.6,501.5 770.5,488.3 771.9,464.7 773.8,466.0 775.1,459.4 776.5,479.1 777.8,463.4 778.2,499.6 779.4,500.7 780.6,504.4 781.8,504.7 783.0,506.0 784.6,506.7 786.2,505.2 787.8,505.8 789.5,506.0 791.1,505.8 792.7,506.0 794.3,504.9 795.9,504.4 797.5,506.6 799.1,506.0 800.7,505.8 802.3,505.2 803.9,504.1 805.5,506.0 807.1,506.1 808.7,504.4 810.3,504.7 811.9,506.0 813.5,505.0 815.1,504.4 816.4,502.7 817.6,502.8 819.2,475.5 820.8,504.4 822.0,501.8 823.2,499.6 825.1,481.9 826.7,498.0 828.8,493.1 830.0,497.4 831.2,502.8 832.4,499.9 833.6,499.6 834.8,502.4 836.0,504.4 837.2,499.2 838.4,496.4 840.0,469.1 841.6,467.4 843.3,459.4 845.2,469.1 846.8,417.7 848.4,428.9 849.7,496.4 850.8,467.4 852.4,433.7 853.7,499.6 854.9,495.6 856.1,489.9 858.2,469.1 860.1,496.4 861.3,490.9 862.5,488.3 863.7,493.2 864.9,496.4 866.1,494.9 867.3,491.5 868.5,495.5 869.7,499.6 871.0,497.0 872.2,493.1 873.4,496.4 874.6,501.2 875.8,493.1 877.0,483.5 878.2,491.3 879.4,499.6 880.6,497.2 881.8,496.4 883.6,501.3 885.6,500.3 887.2,505.4 889.2,504.4 891.2,506.5 893.3,506.5 895.3,507.3 897.4,506.5 899.4,507.0 901.5,501.3 903.5,499.3 905.1,505.4 906.6,503.9 908.6,504.9 910.7,504.4 912.7,503.4 914.8,501.3 916.3,487.0 917.8,486.0 919.4,501.3 920.9,505.4 922.9,503.4 925.0,506.5 927.0,505.4 929.1,506.5 931.1,504.4 933.2,505.4 934.4,504.8 935.7,501.3 937.3,506.0 939.3,503.4 941.3,506.5 942.9,505.7 944.4,505.4 945.4,493.2 946.5,505.4 948.5,506.5 950.6,504.4 952.6,506.5 954.1,505.6 955.7,505.4 957.2,506.0 958.7,504.4 960.3,504.5 961.8,505.4 963.3,506.5 964.9,506.5 966.4,505.0 967.9,505.4 970.0,506.5 971.5,507.0 973.0,505.4 974.6,505.2 976.1,506.5 978.2,505.4 979.7,502.0 981.2,501.3 982.2,506.5 983.8,507.3 985.3,505.4 986.7,505.0 988.1,506.5 989.6,507.3 991.1,505.4 992.7,506.4 994.2,504.4 995.7,505.8 997.3,506.5 999.3,504.5 1001.4,505.4 1003.4,504.6 1005.4,506.5 1007.5,500.3 1009.0,506.5 1011.3,505.6 1013.6,506.5 1015.7,505.6 1017.7,505.4 1019.8,506.5 1021.8,507.0 1023.9,507.3 1025.9,506.5 1027.9,505.5 1030.0,505.4 1031.3,500.3 1032.5,497.3 1033.6,489.1 1034.6,505.4 1036.4,505.1 1038.2,504.4 1039.7,502.3 1041.2,502.4 1042.8,506.5 1044.6,504.7 1046.3,505.4 1048.4,506.1 1050.4,506.5 1052.5,506.5 1054.5,505.4 1056.6,502.4 1058.6,506.5 1060.7,504.6 1062.7,505.4 1064.8,505.8 1066.8,506.5 1068.8,504.4 1070.9,506.5 1072.9,506.6 1075.0,505.4 1077.0,506.7 1079.1,506.5 1081.1,506.1 1083.2,506.5 1085.2,507.3 1087.2,506.5 1089.3,505.5 1091.3,506.5 1092.7,506.6 1094.1,505.4 1096.1,506.4 1098.2,503.4 1100.2,506.4 1101.5,504.7 1102.8,501.3 1104.3,504.4 1106.4,506.4 1107.6,507.1 1108.9,505.4 1110.2,504.4 1111.5,503.4 1113.0,503.2 1114.5,505.4 1116.1,491.3 1117.6,479.9 1119.6,504.4 1121.7,506.4 1123.2,501.9 1124.8,497.2 1126.0,500.3 1127.3,505.4 1129.1,506.3 1130.9,506.4 1132.4,504.7 1133.9,505.4 1135.5,502.3 1136.8,504.7 1138.0,505.4 1139.6,503.6 1141.1,503.4 1143.1,471.7 1144.7,504.4 1146.2,503.4 1148.3,496.2 1150.3,505.4 1151.8,503.4 1153.4,504.4 1154.9,504.4 1156.4,506.4 1158.0,505.3 1159.5,504.4 1161.5,501.3 1163.6,505.4 1165.6,506.1 1167.7,506.4 1169.7,505.6 1171.8,505.4 1173.8,491.1 1175.9,501.3 1177.9,489.1 1179.9,502.3 1181.5,501.9 1183.0,503.4 1184.5,488.5 1186.1,473.7 1188.1,505.4 1190.2,473.7 1192.2,506.4 1194.3,488.0 1196.3,505.4 1198.3,501.3 1200.4,505.4 1202.4,503.4 1204.0,505.7 1205.5,505.4 1207.0,502.5 1208.6,499.3 1210.4,499.1 1212.3,496.2" fill="none" stroke="#9cc083" stroke-width="1"/><polyline points="672.3,485.7 673.7,493.6 675.3,488.3 677.2,497.5 678.5,484.4 679.9,494.9 681.8,491.6 683.1,496.2 684.7,493.6 686.4,498.9 688.4,491.0 689.7,497.5 691.7,496.2 693.7,500.2 695.6,495.6 697.6,498.2 699.6,494.9 701.5,495.6 703.5,492.9 705.5,493.6 707.5,491.0 709.4,492.9 711.4,489.7 713.4,491.6 715.3,488.3 717.3,492.3 719.3,490.3 721.3,493.6 723.2,491.0 725.2,493.6 727.2,496.2 728.5,498.9 730.5,494.9 731.8,491.0 733.1,494.9 735.1,485.7 737.0,488.3 739.0,480.5 741.0,469.3 742.5,475.2 743.9,488.3 745.2,493.6 746.9,498.9 748.9,496.2 750.8,494.9 752.8,496.2 754.8,488.3 756.1,485.7 757.8,481.8 759.4,487.0 761.3,493.6 763.3,498.9 765.3,496.2 767.3,498.9 769.2,494.9 771.2,483.1 773.2,488.3 774.5,472.6 776.5,475.2 777.8,481.8 778.2,496.4 779.8,499.6 781.0,501.0 782.2,502.8 783.4,498.1 784.6,494.7 786.6,489.1 788.7,498.0 789.9,497.8 791.1,501.2 792.3,502.2 793.5,499.6 794.7,498.3 795.9,502.0 797.5,500.0 799.1,498.0 800.3,499.1 801.5,496.4 802.7,491.0 803.9,489.9 805.1,491.0 806.3,491.5 807.5,492.1 808.7,491.5 809.9,493.3 811.1,499.6 812.3,497.4 813.5,496.4 814.7,499.8 816.0,501.2 817.2,499.3 818.4,498.0 819.6,501.5 820.8,502.8 822.0,497.9 823.2,496.4 824.4,493.4 825.6,493.1 826.8,494.4 828.0,499.6 829.2,498.0 830.4,496.4 831.6,497.7 832.8,494.7 834.0,493.6 835.2,491.5 836.4,490.5 837.6,486.7 838.8,487.7 840.0,489.9 841.2,487.9 842.4,483.5 843.7,483.1 844.9,486.7 846.1,482.5 847.3,480.3 849.2,475.5 851.3,483.5 852.5,486.0 853.7,486.7 855.3,481.9 856.5,487.0 857.7,489.9 858.9,486.3 860.1,483.5 861.6,476.6 863.0,473.9 864.9,481.9 866.1,478.3 867.3,477.1 868.5,473.2 869.7,472.3 871.0,474.4 872.2,478.7 873.4,475.4 874.6,469.1 875.8,470.8 877.0,475.5 878.2,474.2 879.4,469.1 880.6,478.2 881.8,483.5 883.6,489.1 885.6,493.2 887.7,490.1 889.7,492.1 891.8,489.1 893.3,485.0 895.3,497.3 897.4,492.1 899.4,494.2 901.5,495.2 903.5,497.3 905.6,493.2 907.1,488.1 908.6,492.1 910.7,491.1 912.7,493.2 914.8,488.1 916.8,493.2 918.9,492.1 920.9,494.2 922.9,497.3 925.0,495.2 927.0,501.3 929.1,500.3 931.1,496.2 933.2,499.3 935.2,497.3 937.3,499.3 939.3,495.2 941.3,489.1 943.4,491.1 945.4,493.2 947.5,495.2 949.5,497.3 951.6,495.2 953.6,492.1 955.7,493.2 956.9,487.9 958.2,487.0 959.5,489.0 960.8,492.1 962.8,493.2 964.9,494.2 966.9,497.3 969.0,501.3 971.0,500.3 973.0,498.3 975.1,496.2 977.1,490.1 979.2,494.2 981.2,491.1 983.3,490.1 985.3,493.2 987.0,496.2 988.3,495.2 989.6,494.2 991.4,490.5 993.2,491.6 995.2,497.3 996.5,495.9 997.8,495.2 999.1,498.8 1000.3,498.3 1001.9,497.4 1003.4,500.3 1004.9,497.0 1006.5,492.7 1007.8,492.0 1009.0,495.2 1010.3,495.1 1011.6,494.2 1013.1,496.9 1014.7,495.7 1016.2,494.5 1017.7,496.2 1019.3,495.3 1020.8,499.3 1022.3,496.2 1023.9,497.3 1025.9,499.3 1027.9,497.3 1030.0,499.3 1032.0,497.3 1033.6,502.4 1035.1,495.2 1037.1,501.3 1038.7,495.2 1040.7,500.3 1042.3,498.3 1044.3,497.3 1046.3,497.3 1048.4,495.2 1050.4,499.3 1052.5,502.4 1054.5,498.3 1056.6,502.4 1058.6,497.3 1060.7,501.3 1062.7,497.3 1064.8,501.3 1066.8,497.3 1068.8,500.3 1070.9,501.3 1072.9,500.3 1075.0,503.4 1077.0,501.3 1079.1,502.4 1081.1,503.4 1083.2,505.4 1084.7,505.6 1086.2,505.4 1087.8,503.0 1089.3,505.4 1090.8,503.4 1092.4,505.4 1094.1,505.4 1096.1,498.3 1097.4,496.7 1098.7,495.2 1100.0,499.3 1101.2,499.3 1103.3,494.2 1105.3,500.3 1106.6,497.3 1107.9,495.2 1109.4,496.2 1111.5,488.0 1112.7,491.1 1114.0,495.2 1115.3,499.0 1116.6,501.3 1118.6,493.1 1120.7,503.4 1122.7,497.2 1124.0,491.1 1125.3,489.1 1127.3,498.3 1129.3,489.1 1130.6,488.9 1131.9,488.0 1133.4,485.9 1135.0,487.0 1136.2,487.0 1137.5,486.0 1138.8,487.3 1140.1,483.9 1141.4,481.2 1142.6,482.9 1143.9,492.4 1145.2,501.3 1147.2,499.3 1149.3,489.1 1151.3,483.9 1152.9,476.8 1154.4,468.6 1155.7,474.5 1156.9,483.9 1159.0,474.8 1160.3,476.7 1161.5,480.9 1163.1,478.8 1165.1,482.9 1167.2,478.8 1169.2,490.1 1171.3,488.0 1173.3,493.1 1174.6,491.0 1175.9,483.9 1177.9,488.0 1179.9,479.9 1181.2,483.4 1182.5,481.9 1184.5,475.8 1186.6,470.7 1188.6,483.9 1190.7,472.7 1192.7,480.9 1194.8,493.1 1196.8,489.1 1198.9,478.8 1200.9,486.0 1202.9,494.2 1204.2,493.8 1205.5,497.2 1207.0,502.3 1209.1,489.1 1210.7,485.0 1212.3,478.8" fill="none" stroke="#e8bb4c" stroke-width="1"/><line x1="664" y1="537" x2="672" y2="537" stroke="#8fa677" stroke-width="1.3"/><text x="675.3" y="540.2" font-size="9.3" fill="#d8d9da" text-anchor="start" font-weight="normal" textLength="78.4" lengthAdjust="spacingAndGlyphs" stroke="#d8d9da" stroke-width="0.3" >error_count&#160;&#160;Avg: 22</text><line x1="764" y1="537" x2="771" y2="537" stroke="#c9a550" stroke-width="1.3"/><text x="776" y="540.2" font-size="9.3" fill="#d8d9da" text-anchor="start" font-weight="normal" textLength="92.4" lengthAdjust="spacingAndGlyphs" stroke="#d8d9da" stroke-width="0.3" >success_count&#160;&#160;Avg: 42</text><line x1="81.5" y1="619.5" x2="622" y2="619.5" stroke="rgba(255,255,255,0.1)" stroke-width="1"/><text x="78.3" y="622.7" font-size="9.3" fill="#c8c9cc" text-anchor="end" font-weight="normal" stroke="#c8c9cc" stroke-width="0.3" >1.0</text><line x1="81.5" y1="665.2" x2="622" y2="665.2" stroke="rgba(255,255,255,0.1)" stroke-width="1"/><text x="78.3" y="668.4000000000001" font-size="9.3" fill="#c8c9cc" text-anchor="end" font-weight="normal" stroke="#c8c9cc" stroke-width="0.3" >0.5</text><line x1="97.7" y1="619.5" x2="97.7" y2="690" stroke="rgba(255,255,255,0.1)" stroke-width="1"/><line x1="187.4" y1="619.5" x2="187.4" y2="690" stroke="rgba(255,255,255,0.1)" stroke-width="1"/><line x1="277.4" y1="619.5" x2="277.4" y2="690" stroke="rgba(255,255,255,0.1)" stroke-width="1"/><line x1="367.5" y1="619.5" x2="367.5" y2="690" stroke="rgba(255,255,255,0.1)" stroke-width="1"/><line x1="457.3" y1="619.5" x2="457.3" y2="690" stroke="rgba(255,255,255,0.1)" stroke-width="1"/><line x1="547.1" y1="619.5" x2="547.1" y2="690" stroke="rgba(255,255,255,0.1)" stroke-width="1"/><line x1="670" y1="619.5" x2="1211.8" y2="619.5" stroke="rgba(255,255,255,0.1)" stroke-width="1"/><text x="668" y="622.7" font-size="9.3" fill="#c8c9cc" text-anchor="end" font-weight="normal" stroke="#c8c9cc" stroke-width="0.3" >1.0</text><line x1="670" y1="665.2" x2="1211.8" y2="665.2" stroke="rgba(255,255,255,0.1)" stroke-width="1"/><text x="668" y="668.4000000000001" font-size="9.3" fill="#c8c9cc" text-anchor="end" font-weight="normal" stroke="#c8c9cc" stroke-width="0.3" >0.5</text><line x1="687.4" y1="619.5" x2="687.4" y2="690" stroke="rgba(255,255,255,0.1)" stroke-width="1"/><line x1="777.4" y1="619.5" x2="777.4" y2="690" stroke="rgba(255,255,255,0.1)" stroke-width="1"/><line x1="867.4" y1="619.5" x2="867.4" y2="690" stroke="rgba(255,255,255,0.1)" stroke-width="1"/><line x1="957.4" y1="619.5" x2="957.4" y2="690" stroke="rgba(255,255,255,0.1)" stroke-width="1"/><line x1="1047.4" y1="619.5" x2="1047.4" y2="690" stroke="rgba(255,255,255,0.1)" stroke-width="1"/><line x1="1137.4" y1="619.5" x2="1137.4" y2="690" stroke="rgba(255,255,255,0.1)" stroke-width="1"/><path d="M58.5 585.5 L77 585.5 L56.5 609 L56.5 588 Z" fill="#232528"/><text x="62.8" y="595" font-size="9.3" fill="#9a9b9e" text-anchor="middle" font-weight="bold" font-family="Liberation Serif">i</text><path d="M648.5 585.5 L667 585.5 L646.5 609 L646.5 588 Z" fill="#232528"/><text x="652.8" y="595" font-size="9.3" fill="#9a9b9e" text-anchor="middle" font-weight="bold" font-family="Liberation Serif">i</text><path d="M938.3 132.2 L938.30 86.10 A46.1 46.1 0 1 1 930.73 177.67 Z" fill="#8ab272" stroke="#141619" stroke-width="0.9"/><path d="M938.3 132.2 L930.73 177.67 A46.1 46.1 0 0 1 901.60 104.31 Z" fill="#e8ba4e" stroke="#141619" stroke-width="0.9"/><path d="M938.3 132.2 L901.60 104.31 A46.1 46.1 0 0 1 913.71 93.21 Z" fill="#6fc9e0" stroke="#141619" stroke-width="0.9"/><path d="M938.3 132.2 L913.71 93.21 A46.1 46.1 0 0 1 925.85 87.81 Z" fill="#ea8544" stroke="#141619" stroke-width="0.9"/><path d="M938.3 132.2 L925.85 87.81 A46.1 46.1 0 0 1 934.68 86.24 Z" fill="#e0504a" stroke="#141619" stroke-width="0.9"/><path d="M938.3 132.2 L934.68 86.24 A46.1 46.1 0 0 1 937.72 86.10 Z" fill="#2f78c4" stroke="#141619" stroke-width="0.9"/><text x="1166.8" y="199.5" font-size="9.3" fill="#3aa6e8" text-anchor="start" font-weight="normal" textLength="27.8" lengthAdjust="spacingAndGlyphs" stroke="#3aa6e8" stroke-width="0.3" >current</text><text x="1202.5" y="199.5" font-size="9.3" fill="#3aa6e8" text-anchor="start" font-weight="normal" textLength="10.7" lengthAdjust="spacingAndGlyphs" stroke="#3aa6e8" stroke-width="0.3" >pe</text><clipPath id="lc"><rect x="650" y="203" width="575" height="89.5"/></clipPath><g clip-path="url(#lc)"><line x1="663.5" y1="212.2" x2="672.5" y2="212.2" stroke="#8ab272" stroke-width="2.2"/><text x="677.8" y="215.39999999999998" font-size="9.3" fill="#d8d9da" text-anchor="start" font-weight="normal" textLength="466.1" lengthAdjust="spacingAndGlyphs" stroke="#d8d9da" stroke-width="0.3" >msg= err status: [undefined] | err request path :undefined | err message: timeout of 10000ms exceeded, | err response…</text><text x="1195" y="215.39999999999998" font-size="9.3" fill="#d8d9da" text-anchor="end" font-weight="normal" textLength="25.3" lengthAdjust="spacingAndGlyphs" stroke="#d8d9da" stroke-width="0.3" >23.3 K</text><rect x="663" y="220.39999999999998" width="550" height="16.2" fill="#202226"/><line x1="663.5" y1="228.39999999999998" x2="672.5" y2="228.39999999999998" stroke="#e8ba4e" stroke-width="2.2"/><text x="677.8" y="231.59999999999997" font-size="9.3" fill="#d8d9da" text-anchor="start" font-weight="normal" textLength="464.6" lengthAdjust="spacingAndGlyphs" stroke="#d8d9da" stroke-width="0.3" >msg= err status: [undefined] | err request path :/OInterface/checkIp | err message: Request failed with status code 41…</text><text x="1195" y="231.59999999999997" font-size="9.3" fill="#d8d9da" text-anchor="end" font-weight="normal" textLength="30.3" lengthAdjust="spacingAndGlyphs" stroke="#d8d9da" stroke-width="0.3" >14.51 K</text><line x1="663.5" y1="244.6" x2="672.5" y2="244.6" stroke="#6fc9e0" stroke-width="2.2"/><text x="677.8" y="247.79999999999998" font-size="9.3" fill="#d8d9da" text-anchor="start" font-weight="normal" textLength="465.2" lengthAdjust="spacingAndGlyphs" stroke="#d8d9da" stroke-width="0.3" >msg= err status: [undefined] | err request path :undefined | err message: connect ETIMEDOUT 127.0.0.1:3000, | err res…</text><text x="1195" y="247.79999999999998" font-size="9.3" fill="#d8d9da" text-anchor="end" font-weight="normal" textLength="30.3" lengthAdjust="spacingAndGlyphs" stroke="#d8d9da" stroke-width="0.3" >2.518 K</text><rect x="663" y="252.79999999999995" width="550" height="16.2" fill="#202226"/><line x1="663.5" y1="260.79999999999995" x2="672.5" y2="260.79999999999995" stroke="#ea8544" stroke-width="2.2"/><text x="677.8" y="263.99999999999994" font-size="9.3" fill="#d8d9da" text-anchor="start" font-weight="normal" textLength="452.5" lengthAdjust="spacingAndGlyphs" stroke="#d8d9da" stroke-width="0.3" >msg= err status: [undefined] | err request path :undefined | err message: Request aborted, | err response: undefined ;</text><text x="1195" y="263.99999999999994" font-size="9.3" fill="#d8d9da" text-anchor="end" font-weight="normal" textLength="30.3" lengthAdjust="spacingAndGlyphs" stroke="#d8d9da" stroke-width="0.3" >2.028 K</text><line x1="663.5" y1="277.0" x2="672.5" y2="277.0" stroke="#e0504a" stroke-width="2.2"/><text x="677.8" y="280.2" font-size="9.3" fill="#d8d9da" text-anchor="start" font-weight="normal" textLength="441.2" lengthAdjust="spacingAndGlyphs" stroke="#d8d9da" stroke-width="0.3" >msg= err status: [undefined] | err request path :undefined | err message: Network Error, | err response: undefined ;</text><text x="1195" y="280.2" font-size="9.3" fill="#d8d9da" text-anchor="end" font-weight="normal" textLength="29.5" lengthAdjust="spacingAndGlyphs" stroke="#d8d9da" stroke-width="0.3" >1.378 K</text><rect x="663" y="285.2" width="550" height="16.2" fill="#202226"/><line x1="663.5" y1="293.2" x2="672.5" y2="293.2" stroke="#2f78c4" stroke-width="2.2"/><text x="677.8" y="296.4" font-size="9.3" fill="#d8d9da" text-anchor="start" font-weight="normal" textLength="464.6" lengthAdjust="spacingAndGlyphs" stroke="#d8d9da" stroke-width="0.3" >msg= err status: [undefined] | err request path :/OInterface/checkIp | err message: Request failed with status code 50…</text><text x="1195" y="296.4" font-size="9.3" fill="#d8d9da" text-anchor="end" font-weight="normal" textLength="14" lengthAdjust="spacingAndGlyphs" stroke="#d8d9da" stroke-width="0.3" >464</text></g><rect x="1235" y="269" width="5" height="72" rx="2" fill="#3d3e42"/><path d="M59.5 566 L62 568.5 L64.5 566" fill="none" stroke="#d8d9da" stroke-width="1.1"/><text x="68" y="571.8" font-size="12" fill="#d8d9da" text-anchor="start" font-weight="bold" textLength="58.7" lengthAdjust="spacingAndGlyphs" >直播间拉取</text><text x="1057" y="658.5" font-size="17.5" fill="rgba(200,200,205,0.55)" text-anchor="start" font-weight="normal" textLength="161" lengthAdjust="spacingAndGlyphs" >@稀土掘金技术社区</text><circle cx="21.8" cy="84.6" r="5.6" fill="none" stroke="#c7c8cb" stroke-width="1.5"/><line x1="25.8" y1="88.6" x2="29" y2="91.8" stroke="#c7c8cb" stroke-width="1.6" stroke-linecap="round"/><path d="M22.5 112.6 V125 M16.3 118.8 H28.7" stroke="#c7c8cb" stroke-width="1.5" stroke-linecap="round"/><rect x="15.8" y="143.8" width="5.6" height="5.6" rx="0.8" fill="none" stroke="#c7c8cb" stroke-width="1.4"/><rect x="15.8" y="151.8" width="5.6" height="5.6" rx="0.8" fill="none" stroke="#c7c8cb" stroke-width="1.4"/><rect x="23.8" y="143.8" width="5.6" height="5.6" rx="0.8" fill="none" stroke="#c7c8cb" stroke-width="1.4"/><rect x="23.8" y="151.8" width="5.6" height="5.6" rx="0.8" fill="none" stroke="#c7c8cb" stroke-width="1.4"/><circle cx="22.5" cy="183.5" r="7" fill="none" stroke="#c7c8cb" stroke-width="1.5"/><path d="M25.8 180.2 L23.8 184.8 L19.2 186.8 L21.2 182.2 Z" fill="none" stroke="#c7c8cb" stroke-width="1.3" stroke-linejoin="round"/><path d="M17.5 219.5 H27.5 L26.3 217.8 V213.8 A3.8 3.8 0 0 0 18.7 213.8 V217.8 Z M20.8 221.3 A1.8 1.8 0 0 0 24.2 221.3 M22.5 208.3 V209.8" fill="none" stroke="#c7c8cb" stroke-width="1.4" stroke-linejoin="round" stroke-linecap="round"/><circle cx="22.5" cy="633" r="10.4" fill="#ab2a1d"/><path d="M14.5 632 H30.5 V638.5 H14.5 Z M17 629.5 H20 V632 H17 Z M25 629.5 H28 V632 H25 Z" fill="#f3e9a6"/><rect x="20.8" y="634" width="3.5" height="1.5" fill="#ab2a1d"/><circle cx="22.5" cy="664.8" r="7.2" fill="none" stroke="#c7c8cb" stroke-width="1.4"/><path d="M20.3 662.6 A2.3 2.3 0 1 1 23.2 664.8 Q22.5 665.3 22.5 666.4" fill="none" stroke="#c7c8cb" stroke-width="1.4" stroke-linecap="round"/><circle cx="22.5" cy="668.7" r="0.9" fill="#c7c8cb"/><defs><linearGradient id="gl" gradientUnits="userSpaceOnUse" x1="0" y1="30" x2="0" y2="7"><stop offset="0" stop-color="#f9d34a"/><stop offset="1" stop-color="#ee5a3a"/></linearGradient><linearGradient id="gls" gradientUnits="userSpaceOnUse" x1="0" y1="24" x2="0" y2="14"><stop offset="0" stop-color="#f3c86a"/><stop offset="1" stop-color="#e98a5a"/></linearGradient></defs><g><circle cx="21.76" cy="10.38" r="2.7" fill="url(#gl)"/><circle cx="27.23" cy="13.60" r="2.7" fill="url(#gl)"/><circle cx="28.82" cy="19.76" r="2.7" fill="url(#gl)"/><circle cx="25.60" cy="25.23" r="2.7" fill="url(#gl)"/><circle cx="19.44" cy="26.82" r="2.7" fill="url(#gl)"/><circle cx="13.97" cy="23.60" r="2.7" fill="url(#gl)"/><circle cx="12.38" cy="17.44" r="2.7" fill="url(#gl)"/><circle cx="15.60" cy="11.97" r="2.7" fill="url(#gl)"/><circle cx="20.6" cy="18.6" r="9.4" fill="url(#gl)"/></g><circle cx="22.4" cy="18.9" r="6.4" fill="#1a1410"/><path d="M28.6 14.6 Q27.2 15.2 25.37 17.09 A3.5 3.5 0 1 0 23.70 22.39" fill="none" stroke="url(#gls)" stroke-width="1.9" stroke-linecap="round"/><circle cx="22.8" cy="19.3" r="1.3" fill="#1a1410"/><rect x="57.3" y="14.4" width="4.6" height="4.6" rx="0.6" fill="none" stroke="#c7c8cb" stroke-width="1.2"/><rect x="57.3" y="20.6" width="4.6" height="4.6" rx="0.6" fill="none" stroke="#c7c8cb" stroke-width="1.2"/><rect x="63.5" y="14.4" width="4.6" height="4.6" rx="0.6" fill="none" stroke="#c7c8cb" stroke-width="1.2"/><rect x="63.5" y="20.6" width="4.6" height="4.6" rx="0.6" fill="none" stroke="#c7c8cb" stroke-width="1.2"/><text x="76" y="25" font-size="14.2" fill="#d8d9da" text-anchor="start" font-weight="normal" textLength="142" lengthAdjust="spacingAndGlyphs" stroke="#d8d9da" stroke-width="0.25" >fed-common / bigo 官网</text><polygon points="235.20,13.90 236.79,17.72 240.91,18.05 237.77,20.73 238.73,24.75 235.20,22.60 231.67,24.75 232.63,20.73 229.49,18.05 233.61,17.72" fill="none" stroke="#c7c8cb" stroke-width="1.2" stroke-linejoin="round"/><circle cx="261" cy="15.6" r="1.9" fill="none" stroke="#c7c8cb" stroke-width="1.15"/><circle cx="254" cy="19.6" r="1.9" fill="none" stroke="#c7c8cb" stroke-width="1.15"/><circle cx="261" cy="23.6" r="1.9" fill="none" stroke="#c7c8cb" stroke-width="1.15"/><path d="M255.7 18.6 L259.3 16.6 M255.7 20.6 L259.3 22.6" stroke="#c7c8cb" stroke-width="1.15"/><rect x="900.5" y="7.5" width="30" height="23.5" rx="1.2" fill="#121317" stroke="#222429" stroke-width="1"/><rect x="934.5" y="7.5" width="26" height="23.5" rx="1.2" fill="#121317" stroke="#222429" stroke-width="1"/><rect x="963.5" y="7.5" width="26" height="23.5" rx="1.2" fill="#121317" stroke="#222429" stroke-width="1"/><rect x="1000.5" y="7.5" width="26" height="23.5" rx="1.2" fill="#121317" stroke="#222429" stroke-width="1"/><rect x="1037.5" y="7.5" width="110" height="23.5" rx="1.2" fill="#121317" stroke="#222429" stroke-width="1"/><rect x="1151.5" y="7.5" width="25" height="23.5" rx="1.2" fill="#121317" stroke="#222429" stroke-width="1"/><rect x="1180.5" y="7.5" width="49.5" height="23.5" rx="1.2" fill="#121317" stroke="#222429" stroke-width="1"/><line x1="1208" y1="8" x2="1208" y2="30.5" stroke="#23252a" stroke-width="1"/><rect x="906.6" y="18.4" width="2.3" height="5.6" fill="#9fa0a4"/><rect x="910.2" y="16.1" width="2.3" height="7.9" fill="#9fa0a4"/><rect x="913.8" y="19.4" width="2.3" height="4.6" fill="#9fa0a4"/><rect x="917.2" y="14.6" width="2.3" height="9.4" fill="#9fa0a4"/><path d="M921.2 15.6 V22.2 M917.9 18.9 H924.5" stroke="#16171b" stroke-width="4"/><path d="M921.2 15.6 V22.2 M917.9 18.9 H924.5" stroke="#f5a94a" stroke-width="2.2"/><path d="M942.5 14.6 H949.6 L952 17 V23.8 H942.5 Z M944.8 14.9 V17.4 H948.8 V14.9 M944.8 23.5 V20.6 H949.7 V23.5" fill="none" stroke="#9fa0a4" stroke-width="1.2" stroke-linejoin="round"/><polygon points="982.00,19.20 980.47,20.88 980.36,23.16 978.08,23.27 976.40,24.80 974.72,23.27 972.44,23.16 972.33,20.88 970.80,19.20 972.33,17.52 972.44,15.24 974.72,15.13 976.40,13.60 978.08,15.13 980.36,15.24 980.47,17.52" fill="none" stroke="#9fa0a4" stroke-width="1.2" stroke-linejoin="round"/><circle cx="976.4" cy="19.2" r="1.8" fill="none" stroke="#9fa0a4" stroke-width="1.2"/><rect x="1008.3" y="13.5" width="10.8" height="8.3" rx="1" fill="none" stroke="#9fa0a4" stroke-width="1.2"/><path d="M1008.5 19.5 H1019 M1011.5 22 V24.3 H1016 V22" fill="none" stroke="#9fa0a4" stroke-width="1.2"/><circle cx="1050.2" cy="19.5" r="5.6" fill="none" stroke="#9fa0a4" stroke-width="1.2"/><path d="M1050.2 16 V19.7 H1047.5" fill="none" stroke="#9fa0a4" stroke-width="1.2"/><text x="1060.5" y="23.4" font-size="10.8" fill="#a5a6aa" text-anchor="start" font-weight="bold" textLength="63.1" lengthAdjust="spacingAndGlyphs" >Last 24 hours</text><path d="M1135.5 18 L1138 20.5 L1140.5 18" fill="none" stroke="#9fa0a4" stroke-width="1.2"/><circle cx="1163.6" cy="18.8" r="5" fill="none" stroke="#9fa0a4" stroke-width="1.2"/><path d="M1161.2 18.8 H1166 M1167.3 22.5 L1169.7 24.9" stroke="#9fa0a4" stroke-width="1.2" stroke-linecap="round"/><path d="M1189 16.6 A5.2 5.2 0 0 1 1198.6 18 M1198.2 21.6 A5.2 5.2 0 0 1 1188.8 20.4" fill="none" stroke="#9fa0a4" stroke-width="1.3"/><path d="M1198.6 14.5 V18.2 H1195" fill="none" stroke="#9fa0a4" stroke-width="1.3"/><path d="M1188.6 24.2 V20.6 H1192.2" fill="none" stroke="#9fa0a4" stroke-width="1.3"/><path d="M1216.5 18 L1219 20.5 L1221.5 18" fill="none" stroke="#9fa0a4" stroke-width="1.2"/></svg>
</body></html>
